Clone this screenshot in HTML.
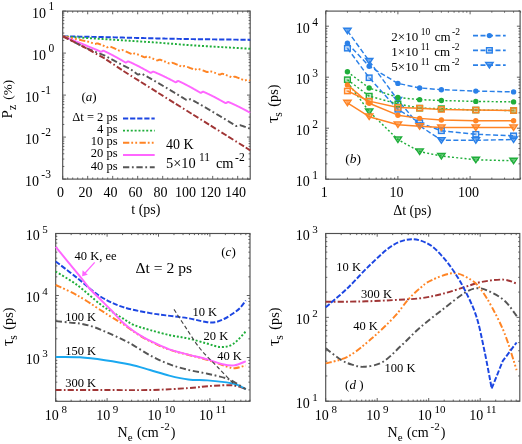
<!DOCTYPE html>
<html><head><meta charset="utf-8"><style>
html,body{margin:0;padding:0;background:#fff;width:522px;height:444px;overflow:hidden}
svg{display:block;filter:blur(0.35px)}
text{font-family:"Liberation Serif", serif;fill:#000}
</style></head><body>
<svg width="522" height="444" viewBox="0 0 522 444">
<rect width="522" height="444" fill="#fff"/>
<rect x="62.70" y="11.10" width="187.50" height="168.00" fill="none" stroke="#505050" stroke-width="1.15"/>
<line x1="62.70" y1="179.10" x2="62.70" y2="175.90" stroke="#505050" stroke-width="0.9"/>
<line x1="62.70" y1="11.10" x2="62.70" y2="14.30" stroke="#505050" stroke-width="0.9"/>
<line x1="87.70" y1="179.10" x2="87.70" y2="175.90" stroke="#505050" stroke-width="0.9"/>
<line x1="87.70" y1="11.10" x2="87.70" y2="14.30" stroke="#505050" stroke-width="0.9"/>
<line x1="112.70" y1="179.10" x2="112.70" y2="175.90" stroke="#505050" stroke-width="0.9"/>
<line x1="112.70" y1="11.10" x2="112.70" y2="14.30" stroke="#505050" stroke-width="0.9"/>
<line x1="137.70" y1="179.10" x2="137.70" y2="175.90" stroke="#505050" stroke-width="0.9"/>
<line x1="137.70" y1="11.10" x2="137.70" y2="14.30" stroke="#505050" stroke-width="0.9"/>
<line x1="162.70" y1="179.10" x2="162.70" y2="175.90" stroke="#505050" stroke-width="0.9"/>
<line x1="162.70" y1="11.10" x2="162.70" y2="14.30" stroke="#505050" stroke-width="0.9"/>
<line x1="187.70" y1="179.10" x2="187.70" y2="175.90" stroke="#505050" stroke-width="0.9"/>
<line x1="187.70" y1="11.10" x2="187.70" y2="14.30" stroke="#505050" stroke-width="0.9"/>
<line x1="212.70" y1="179.10" x2="212.70" y2="175.90" stroke="#505050" stroke-width="0.9"/>
<line x1="212.70" y1="11.10" x2="212.70" y2="14.30" stroke="#505050" stroke-width="0.9"/>
<line x1="237.70" y1="179.10" x2="237.70" y2="175.90" stroke="#505050" stroke-width="0.9"/>
<line x1="237.70" y1="11.10" x2="237.70" y2="14.30" stroke="#505050" stroke-width="0.9"/>
<line x1="67.70" y1="179.10" x2="67.70" y2="177.50" stroke="#505050" stroke-width="0.9"/>
<line x1="67.70" y1="11.10" x2="67.70" y2="12.70" stroke="#505050" stroke-width="0.9"/>
<line x1="72.70" y1="179.10" x2="72.70" y2="177.50" stroke="#505050" stroke-width="0.9"/>
<line x1="72.70" y1="11.10" x2="72.70" y2="12.70" stroke="#505050" stroke-width="0.9"/>
<line x1="77.70" y1="179.10" x2="77.70" y2="177.50" stroke="#505050" stroke-width="0.9"/>
<line x1="77.70" y1="11.10" x2="77.70" y2="12.70" stroke="#505050" stroke-width="0.9"/>
<line x1="82.70" y1="179.10" x2="82.70" y2="177.50" stroke="#505050" stroke-width="0.9"/>
<line x1="82.70" y1="11.10" x2="82.70" y2="12.70" stroke="#505050" stroke-width="0.9"/>
<line x1="92.70" y1="179.10" x2="92.70" y2="177.50" stroke="#505050" stroke-width="0.9"/>
<line x1="92.70" y1="11.10" x2="92.70" y2="12.70" stroke="#505050" stroke-width="0.9"/>
<line x1="97.70" y1="179.10" x2="97.70" y2="177.50" stroke="#505050" stroke-width="0.9"/>
<line x1="97.70" y1="11.10" x2="97.70" y2="12.70" stroke="#505050" stroke-width="0.9"/>
<line x1="102.70" y1="179.10" x2="102.70" y2="177.50" stroke="#505050" stroke-width="0.9"/>
<line x1="102.70" y1="11.10" x2="102.70" y2="12.70" stroke="#505050" stroke-width="0.9"/>
<line x1="107.70" y1="179.10" x2="107.70" y2="177.50" stroke="#505050" stroke-width="0.9"/>
<line x1="107.70" y1="11.10" x2="107.70" y2="12.70" stroke="#505050" stroke-width="0.9"/>
<line x1="117.70" y1="179.10" x2="117.70" y2="177.50" stroke="#505050" stroke-width="0.9"/>
<line x1="117.70" y1="11.10" x2="117.70" y2="12.70" stroke="#505050" stroke-width="0.9"/>
<line x1="122.70" y1="179.10" x2="122.70" y2="177.50" stroke="#505050" stroke-width="0.9"/>
<line x1="122.70" y1="11.10" x2="122.70" y2="12.70" stroke="#505050" stroke-width="0.9"/>
<line x1="127.70" y1="179.10" x2="127.70" y2="177.50" stroke="#505050" stroke-width="0.9"/>
<line x1="127.70" y1="11.10" x2="127.70" y2="12.70" stroke="#505050" stroke-width="0.9"/>
<line x1="132.70" y1="179.10" x2="132.70" y2="177.50" stroke="#505050" stroke-width="0.9"/>
<line x1="132.70" y1="11.10" x2="132.70" y2="12.70" stroke="#505050" stroke-width="0.9"/>
<line x1="142.70" y1="179.10" x2="142.70" y2="177.50" stroke="#505050" stroke-width="0.9"/>
<line x1="142.70" y1="11.10" x2="142.70" y2="12.70" stroke="#505050" stroke-width="0.9"/>
<line x1="147.70" y1="179.10" x2="147.70" y2="177.50" stroke="#505050" stroke-width="0.9"/>
<line x1="147.70" y1="11.10" x2="147.70" y2="12.70" stroke="#505050" stroke-width="0.9"/>
<line x1="152.70" y1="179.10" x2="152.70" y2="177.50" stroke="#505050" stroke-width="0.9"/>
<line x1="152.70" y1="11.10" x2="152.70" y2="12.70" stroke="#505050" stroke-width="0.9"/>
<line x1="157.70" y1="179.10" x2="157.70" y2="177.50" stroke="#505050" stroke-width="0.9"/>
<line x1="157.70" y1="11.10" x2="157.70" y2="12.70" stroke="#505050" stroke-width="0.9"/>
<line x1="167.70" y1="179.10" x2="167.70" y2="177.50" stroke="#505050" stroke-width="0.9"/>
<line x1="167.70" y1="11.10" x2="167.70" y2="12.70" stroke="#505050" stroke-width="0.9"/>
<line x1="172.70" y1="179.10" x2="172.70" y2="177.50" stroke="#505050" stroke-width="0.9"/>
<line x1="172.70" y1="11.10" x2="172.70" y2="12.70" stroke="#505050" stroke-width="0.9"/>
<line x1="177.70" y1="179.10" x2="177.70" y2="177.50" stroke="#505050" stroke-width="0.9"/>
<line x1="177.70" y1="11.10" x2="177.70" y2="12.70" stroke="#505050" stroke-width="0.9"/>
<line x1="182.70" y1="179.10" x2="182.70" y2="177.50" stroke="#505050" stroke-width="0.9"/>
<line x1="182.70" y1="11.10" x2="182.70" y2="12.70" stroke="#505050" stroke-width="0.9"/>
<line x1="192.70" y1="179.10" x2="192.70" y2="177.50" stroke="#505050" stroke-width="0.9"/>
<line x1="192.70" y1="11.10" x2="192.70" y2="12.70" stroke="#505050" stroke-width="0.9"/>
<line x1="197.70" y1="179.10" x2="197.70" y2="177.50" stroke="#505050" stroke-width="0.9"/>
<line x1="197.70" y1="11.10" x2="197.70" y2="12.70" stroke="#505050" stroke-width="0.9"/>
<line x1="202.70" y1="179.10" x2="202.70" y2="177.50" stroke="#505050" stroke-width="0.9"/>
<line x1="202.70" y1="11.10" x2="202.70" y2="12.70" stroke="#505050" stroke-width="0.9"/>
<line x1="207.70" y1="179.10" x2="207.70" y2="177.50" stroke="#505050" stroke-width="0.9"/>
<line x1="207.70" y1="11.10" x2="207.70" y2="12.70" stroke="#505050" stroke-width="0.9"/>
<line x1="217.70" y1="179.10" x2="217.70" y2="177.50" stroke="#505050" stroke-width="0.9"/>
<line x1="217.70" y1="11.10" x2="217.70" y2="12.70" stroke="#505050" stroke-width="0.9"/>
<line x1="222.70" y1="179.10" x2="222.70" y2="177.50" stroke="#505050" stroke-width="0.9"/>
<line x1="222.70" y1="11.10" x2="222.70" y2="12.70" stroke="#505050" stroke-width="0.9"/>
<line x1="227.70" y1="179.10" x2="227.70" y2="177.50" stroke="#505050" stroke-width="0.9"/>
<line x1="227.70" y1="11.10" x2="227.70" y2="12.70" stroke="#505050" stroke-width="0.9"/>
<line x1="232.70" y1="179.10" x2="232.70" y2="177.50" stroke="#505050" stroke-width="0.9"/>
<line x1="232.70" y1="11.10" x2="232.70" y2="12.70" stroke="#505050" stroke-width="0.9"/>
<line x1="242.70" y1="179.10" x2="242.70" y2="177.50" stroke="#505050" stroke-width="0.9"/>
<line x1="242.70" y1="11.10" x2="242.70" y2="12.70" stroke="#505050" stroke-width="0.9"/>
<line x1="247.70" y1="179.10" x2="247.70" y2="177.50" stroke="#505050" stroke-width="0.9"/>
<line x1="247.70" y1="11.10" x2="247.70" y2="12.70" stroke="#505050" stroke-width="0.9"/>
<line x1="62.70" y1="179.10" x2="65.90" y2="179.10" stroke="#505050" stroke-width="0.9"/>
<line x1="250.20" y1="179.10" x2="247.00" y2="179.10" stroke="#505050" stroke-width="0.9"/>
<line x1="62.70" y1="137.10" x2="65.90" y2="137.10" stroke="#505050" stroke-width="0.9"/>
<line x1="250.20" y1="137.10" x2="247.00" y2="137.10" stroke="#505050" stroke-width="0.9"/>
<line x1="62.70" y1="95.10" x2="65.90" y2="95.10" stroke="#505050" stroke-width="0.9"/>
<line x1="250.20" y1="95.10" x2="247.00" y2="95.10" stroke="#505050" stroke-width="0.9"/>
<line x1="62.70" y1="53.10" x2="65.90" y2="53.10" stroke="#505050" stroke-width="0.9"/>
<line x1="250.20" y1="53.10" x2="247.00" y2="53.10" stroke="#505050" stroke-width="0.9"/>
<line x1="62.70" y1="11.10" x2="65.90" y2="11.10" stroke="#505050" stroke-width="0.9"/>
<line x1="250.20" y1="11.10" x2="247.00" y2="11.10" stroke="#505050" stroke-width="0.9"/>
<line x1="62.70" y1="166.46" x2="64.30" y2="166.46" stroke="#505050" stroke-width="0.9"/>
<line x1="250.20" y1="166.46" x2="248.60" y2="166.46" stroke="#505050" stroke-width="0.9"/>
<line x1="62.70" y1="159.06" x2="64.30" y2="159.06" stroke="#505050" stroke-width="0.9"/>
<line x1="250.20" y1="159.06" x2="248.60" y2="159.06" stroke="#505050" stroke-width="0.9"/>
<line x1="62.70" y1="153.81" x2="64.30" y2="153.81" stroke="#505050" stroke-width="0.9"/>
<line x1="250.20" y1="153.81" x2="248.60" y2="153.81" stroke="#505050" stroke-width="0.9"/>
<line x1="62.70" y1="149.74" x2="64.30" y2="149.74" stroke="#505050" stroke-width="0.9"/>
<line x1="250.20" y1="149.74" x2="248.60" y2="149.74" stroke="#505050" stroke-width="0.9"/>
<line x1="62.70" y1="146.42" x2="64.30" y2="146.42" stroke="#505050" stroke-width="0.9"/>
<line x1="250.20" y1="146.42" x2="248.60" y2="146.42" stroke="#505050" stroke-width="0.9"/>
<line x1="62.70" y1="143.61" x2="64.30" y2="143.61" stroke="#505050" stroke-width="0.9"/>
<line x1="250.20" y1="143.61" x2="248.60" y2="143.61" stroke="#505050" stroke-width="0.9"/>
<line x1="62.70" y1="141.17" x2="64.30" y2="141.17" stroke="#505050" stroke-width="0.9"/>
<line x1="250.20" y1="141.17" x2="248.60" y2="141.17" stroke="#505050" stroke-width="0.9"/>
<line x1="62.70" y1="139.02" x2="64.30" y2="139.02" stroke="#505050" stroke-width="0.9"/>
<line x1="250.20" y1="139.02" x2="248.60" y2="139.02" stroke="#505050" stroke-width="0.9"/>
<line x1="62.70" y1="124.46" x2="64.30" y2="124.46" stroke="#505050" stroke-width="0.9"/>
<line x1="250.20" y1="124.46" x2="248.60" y2="124.46" stroke="#505050" stroke-width="0.9"/>
<line x1="62.70" y1="117.06" x2="64.30" y2="117.06" stroke="#505050" stroke-width="0.9"/>
<line x1="250.20" y1="117.06" x2="248.60" y2="117.06" stroke="#505050" stroke-width="0.9"/>
<line x1="62.70" y1="111.81" x2="64.30" y2="111.81" stroke="#505050" stroke-width="0.9"/>
<line x1="250.20" y1="111.81" x2="248.60" y2="111.81" stroke="#505050" stroke-width="0.9"/>
<line x1="62.70" y1="107.74" x2="64.30" y2="107.74" stroke="#505050" stroke-width="0.9"/>
<line x1="250.20" y1="107.74" x2="248.60" y2="107.74" stroke="#505050" stroke-width="0.9"/>
<line x1="62.70" y1="104.42" x2="64.30" y2="104.42" stroke="#505050" stroke-width="0.9"/>
<line x1="250.20" y1="104.42" x2="248.60" y2="104.42" stroke="#505050" stroke-width="0.9"/>
<line x1="62.70" y1="101.61" x2="64.30" y2="101.61" stroke="#505050" stroke-width="0.9"/>
<line x1="250.20" y1="101.61" x2="248.60" y2="101.61" stroke="#505050" stroke-width="0.9"/>
<line x1="62.70" y1="99.17" x2="64.30" y2="99.17" stroke="#505050" stroke-width="0.9"/>
<line x1="250.20" y1="99.17" x2="248.60" y2="99.17" stroke="#505050" stroke-width="0.9"/>
<line x1="62.70" y1="97.02" x2="64.30" y2="97.02" stroke="#505050" stroke-width="0.9"/>
<line x1="250.20" y1="97.02" x2="248.60" y2="97.02" stroke="#505050" stroke-width="0.9"/>
<line x1="62.70" y1="82.46" x2="64.30" y2="82.46" stroke="#505050" stroke-width="0.9"/>
<line x1="250.20" y1="82.46" x2="248.60" y2="82.46" stroke="#505050" stroke-width="0.9"/>
<line x1="62.70" y1="75.06" x2="64.30" y2="75.06" stroke="#505050" stroke-width="0.9"/>
<line x1="250.20" y1="75.06" x2="248.60" y2="75.06" stroke="#505050" stroke-width="0.9"/>
<line x1="62.70" y1="69.81" x2="64.30" y2="69.81" stroke="#505050" stroke-width="0.9"/>
<line x1="250.20" y1="69.81" x2="248.60" y2="69.81" stroke="#505050" stroke-width="0.9"/>
<line x1="62.70" y1="65.74" x2="64.30" y2="65.74" stroke="#505050" stroke-width="0.9"/>
<line x1="250.20" y1="65.74" x2="248.60" y2="65.74" stroke="#505050" stroke-width="0.9"/>
<line x1="62.70" y1="62.42" x2="64.30" y2="62.42" stroke="#505050" stroke-width="0.9"/>
<line x1="250.20" y1="62.42" x2="248.60" y2="62.42" stroke="#505050" stroke-width="0.9"/>
<line x1="62.70" y1="59.61" x2="64.30" y2="59.61" stroke="#505050" stroke-width="0.9"/>
<line x1="250.20" y1="59.61" x2="248.60" y2="59.61" stroke="#505050" stroke-width="0.9"/>
<line x1="62.70" y1="57.17" x2="64.30" y2="57.17" stroke="#505050" stroke-width="0.9"/>
<line x1="250.20" y1="57.17" x2="248.60" y2="57.17" stroke="#505050" stroke-width="0.9"/>
<line x1="62.70" y1="55.02" x2="64.30" y2="55.02" stroke="#505050" stroke-width="0.9"/>
<line x1="250.20" y1="55.02" x2="248.60" y2="55.02" stroke="#505050" stroke-width="0.9"/>
<line x1="62.70" y1="40.46" x2="64.30" y2="40.46" stroke="#505050" stroke-width="0.9"/>
<line x1="250.20" y1="40.46" x2="248.60" y2="40.46" stroke="#505050" stroke-width="0.9"/>
<line x1="62.70" y1="33.06" x2="64.30" y2="33.06" stroke="#505050" stroke-width="0.9"/>
<line x1="250.20" y1="33.06" x2="248.60" y2="33.06" stroke="#505050" stroke-width="0.9"/>
<line x1="62.70" y1="27.81" x2="64.30" y2="27.81" stroke="#505050" stroke-width="0.9"/>
<line x1="250.20" y1="27.81" x2="248.60" y2="27.81" stroke="#505050" stroke-width="0.9"/>
<line x1="62.70" y1="23.74" x2="64.30" y2="23.74" stroke="#505050" stroke-width="0.9"/>
<line x1="250.20" y1="23.74" x2="248.60" y2="23.74" stroke="#505050" stroke-width="0.9"/>
<line x1="62.70" y1="20.42" x2="64.30" y2="20.42" stroke="#505050" stroke-width="0.9"/>
<line x1="250.20" y1="20.42" x2="248.60" y2="20.42" stroke="#505050" stroke-width="0.9"/>
<line x1="62.70" y1="17.61" x2="64.30" y2="17.61" stroke="#505050" stroke-width="0.9"/>
<line x1="250.20" y1="17.61" x2="248.60" y2="17.61" stroke="#505050" stroke-width="0.9"/>
<line x1="62.70" y1="15.17" x2="64.30" y2="15.17" stroke="#505050" stroke-width="0.9"/>
<line x1="250.20" y1="15.17" x2="248.60" y2="15.17" stroke="#505050" stroke-width="0.9"/>
<line x1="62.70" y1="13.02" x2="64.30" y2="13.02" stroke="#505050" stroke-width="0.9"/>
<line x1="250.20" y1="13.02" x2="248.60" y2="13.02" stroke="#505050" stroke-width="0.9"/>
<text x="50.90" y="186.00" font-size="14" text-anchor="end">10<tspan dx="2.4" dy="-7.6" font-size="11.5">-3</tspan></text>
<text x="50.90" y="144.00" font-size="14" text-anchor="end">10<tspan dx="2.4" dy="-7.6" font-size="11.5">-2</tspan></text>
<text x="50.90" y="102.00" font-size="14" text-anchor="end">10<tspan dx="2.4" dy="-7.6" font-size="11.5">-1</tspan></text>
<text x="54.20" y="60.00" font-size="14" text-anchor="end">10<tspan dx="2.4" dy="-7.6" font-size="11.5">0</tspan></text>
<text x="54.20" y="18.00" font-size="14" text-anchor="end">10<tspan dx="2.4" dy="-7.6" font-size="11.5">1</tspan></text>
<text x="60.50" y="196.50" font-size="14" text-anchor="middle" >0</text>
<text x="85.50" y="196.50" font-size="14" text-anchor="middle" >20</text>
<text x="110.50" y="196.50" font-size="14" text-anchor="middle" >40</text>
<text x="135.50" y="196.50" font-size="14" text-anchor="middle" >60</text>
<text x="160.50" y="196.50" font-size="14" text-anchor="middle" >80</text>
<text x="185.50" y="196.50" font-size="14" text-anchor="middle" >100</text>
<text x="210.50" y="196.50" font-size="14" text-anchor="middle" >120</text>
<text x="235.50" y="196.50" font-size="14" text-anchor="middle" >140</text>
<text x="131.30" y="214.00" font-size="14" text-anchor="start" >t (ps)</text>
<text transform="translate(12.4,118.6) rotate(-90)" font-size="14.8">P<tspan dx="0.4" dy="4" font-size="11.5">z</tspan><tspan dy="-4" dx="5.2" font-size="13.2">(%)</tspan></text>
<path d="M63.00,36.30 L63.31,36.31 L63.62,36.31 L63.94,36.32 L64.25,36.32 L64.56,36.33 L64.87,36.34 L65.18,36.34 L65.50,36.35 L65.81,36.35 L66.12,36.36 L66.43,36.36 L66.74,36.37 L67.06,36.38 L67.37,36.38 L67.68,36.39 L67.99,36.39 L68.30,36.40 L68.62,36.41 L68.93,36.41 L69.24,36.42 L69.55,36.42 L69.86,36.43 L70.18,36.44 L70.49,36.44 L70.80,36.45 L71.11,36.45 L71.42,36.46 L71.74,36.47 L72.05,36.47 L72.36,36.48 L72.67,36.48 L72.98,36.49 L73.30,36.49 L73.61,36.50 L73.92,36.51 L74.23,36.51 L74.54,36.52 L74.86,36.52 L75.17,36.53 L75.48,36.54 L75.79,36.54 L76.10,36.55 L76.42,36.55 L76.73,36.56 L77.04,36.57 L77.35,36.57 L77.66,36.58 L77.98,36.58 L78.29,36.59 L78.60,36.60 L78.91,36.60 L79.22,36.61 L79.54,36.61 L79.85,36.62 L80.16,36.62 L80.47,36.63 L80.78,36.64 L81.10,36.64 L81.41,36.65 L81.72,36.65 L82.03,36.66 L82.34,36.67 L82.66,36.67 L82.97,36.68 L83.28,36.68 L83.59,36.69 L83.90,36.70 L84.22,36.70 L84.53,36.71 L84.84,36.71 L85.15,36.72 L85.46,36.72 L85.78,36.73 L86.09,36.74 L86.40,36.74 L86.71,36.75 L87.02,36.75 L87.34,36.76 L87.65,36.77 L87.96,36.77 L88.27,36.78 L88.58,36.78 L88.90,36.79 L89.21,36.80 L89.52,36.80 L89.83,36.81 L90.14,36.81 L90.46,36.82 L90.77,36.83 L91.08,36.83 L91.39,36.84 L91.70,36.84 L92.02,36.85 L92.33,36.85 L92.64,36.86 L92.95,36.87 L93.26,36.87 L93.58,36.88 L93.89,36.88 L94.20,36.89 L94.51,36.90 L94.82,36.90 L95.14,36.91 L95.45,36.91 L95.76,36.92 L96.07,36.93 L96.38,36.93 L96.70,36.94 L97.01,36.94 L97.32,36.95 L97.63,36.96 L97.94,36.96 L98.26,36.97 L98.57,36.97 L98.88,36.98 L99.19,36.98 L99.50,36.99 L99.82,37.00 L100.13,37.00 L100.44,37.01 L100.75,37.02 L101.06,37.03 L101.38,37.03 L101.69,37.04 L102.00,37.05 L102.31,37.06 L102.62,37.07 L102.94,37.07 L103.25,37.08 L103.56,37.09 L103.87,37.10 L104.18,37.10 L104.50,37.11 L104.81,37.12 L105.12,37.13 L105.43,37.14 L105.74,37.14 L106.06,37.15 L106.37,37.16 L106.68,37.17 L106.99,37.17 L107.30,37.18 L107.62,37.19 L107.93,37.20 L108.24,37.21 L108.55,37.21 L108.86,37.22 L109.18,37.23 L109.49,37.24 L109.80,37.24 L110.11,37.25 L110.42,37.26 L110.74,37.27 L111.05,37.28 L111.36,37.28 L111.67,37.29 L111.98,37.30 L112.30,37.31 L112.61,37.32 L112.92,37.32 L113.23,37.33 L113.54,37.34 L113.86,37.35 L114.17,37.35 L114.48,37.36 L114.79,37.37 L115.10,37.38 L115.42,37.39 L115.73,37.39 L116.04,37.40 L116.35,37.41 L116.66,37.42 L116.98,37.42 L117.29,37.43 L117.60,37.44 L117.91,37.45 L118.22,37.46 L118.54,37.46 L118.85,37.47 L119.16,37.48 L119.47,37.49 L119.78,37.49 L120.10,37.50 L120.41,37.51 L120.72,37.52 L121.03,37.53 L121.34,37.53 L121.66,37.54 L121.97,37.55 L122.28,37.56 L122.59,37.56 L122.90,37.57 L123.22,37.58 L123.53,37.59 L123.84,37.60 L124.15,37.60 L124.46,37.61 L124.78,37.62 L125.09,37.63 L125.40,37.63 L125.71,37.64 L126.02,37.65 L126.34,37.66 L126.65,37.67 L126.96,37.67 L127.27,37.68 L127.58,37.69 L127.90,37.70 L128.21,37.71 L128.52,37.71 L128.83,37.72 L129.14,37.73 L129.46,37.74 L129.77,37.74 L130.08,37.75 L130.39,37.76 L130.70,37.77 L131.02,37.78 L131.33,37.78 L131.64,37.79 L131.95,37.80 L132.26,37.81 L132.58,37.81 L132.89,37.82 L133.20,37.83 L133.51,37.84 L133.82,37.85 L134.14,37.85 L134.45,37.86 L134.76,37.87 L135.07,37.88 L135.38,37.88 L135.70,37.89 L136.01,37.90 L136.32,37.91 L136.63,37.92 L136.94,37.92 L137.26,37.93 L137.57,37.94 L137.88,37.95 L138.19,37.95 L138.50,37.96 L138.82,37.97 L139.13,37.98 L139.44,37.99 L139.75,37.99 L140.06,38.00 L140.38,38.01 L140.69,38.02 L141.00,38.02 L141.31,38.03 L141.62,38.04 L141.94,38.05 L142.25,38.06 L142.56,38.06 L142.87,38.07 L143.18,38.08 L143.50,38.09 L143.81,38.10 L144.12,38.10 L144.43,38.11 L144.74,38.12 L145.06,38.13 L145.37,38.13 L145.68,38.14 L145.99,38.15 L146.30,38.16 L146.62,38.17 L146.93,38.17 L147.24,38.18 L147.55,38.19 L147.86,38.20 L148.18,38.20 L148.49,38.21 L148.80,38.22 L149.11,38.23 L149.42,38.24 L149.74,38.24 L150.05,38.25 L150.36,38.26 L150.67,38.27 L150.98,38.27 L151.30,38.28 L151.61,38.29 L151.92,38.30 L152.23,38.31 L152.54,38.31 L152.86,38.32 L153.17,38.33 L153.48,38.34 L153.79,38.34 L154.10,38.35 L154.42,38.36 L154.73,38.37 L155.04,38.38 L155.35,38.38 L155.66,38.39 L155.98,38.40 L156.29,38.41 L156.60,38.41 L156.91,38.42 L157.22,38.43 L157.54,38.44 L157.85,38.45 L158.16,38.45 L158.47,38.46 L158.78,38.47 L159.10,38.48 L159.41,38.49 L159.72,38.49 L160.03,38.50 L160.34,38.51 L160.66,38.51 L160.97,38.52 L161.28,38.53 L161.59,38.53 L161.90,38.54 L162.22,38.54 L162.53,38.55 L162.84,38.56 L163.15,38.56 L163.46,38.57 L163.78,38.58 L164.09,38.58 L164.40,38.59 L164.71,38.59 L165.02,38.60 L165.34,38.61 L165.65,38.61 L165.96,38.62 L166.27,38.63 L166.58,38.63 L166.90,38.64 L167.21,38.64 L167.52,38.65 L167.83,38.66 L168.14,38.66 L168.46,38.67 L168.77,38.68 L169.08,38.68 L169.39,38.69 L169.70,38.69 L170.02,38.70 L170.33,38.71 L170.64,38.71 L170.95,38.72 L171.26,38.73 L171.58,38.73 L171.89,38.74 L172.20,38.74 L172.51,38.75 L172.82,38.76 L173.14,38.76 L173.45,38.77 L173.76,38.78 L174.07,38.78 L174.38,38.79 L174.70,38.79 L175.01,38.80 L175.32,38.81 L175.63,38.81 L175.94,38.82 L176.26,38.83 L176.57,38.83 L176.88,38.84 L177.19,38.84 L177.50,38.85 L177.82,38.86 L178.13,38.86 L178.44,38.87 L178.75,38.88 L179.06,38.88 L179.38,38.89 L179.69,38.89 L180.00,38.90 L180.31,38.91 L180.62,38.91 L180.94,38.92 L181.25,38.92 L181.56,38.93 L181.87,38.94 L182.18,38.94 L182.50,38.95 L182.81,38.96 L183.12,38.96 L183.43,38.97 L183.74,38.97 L184.06,38.98 L184.37,38.99 L184.68,38.99 L184.99,39.00 L185.30,39.01 L185.62,39.01 L185.93,39.02 L186.24,39.02 L186.55,39.03 L186.86,39.04 L187.18,39.04 L187.49,39.05 L187.80,39.06 L188.11,39.06 L188.42,39.07 L188.74,39.07 L189.05,39.08 L189.36,39.09 L189.67,39.09 L189.98,39.10 L190.30,39.10 L190.61,39.11 L190.92,39.11 L191.23,39.11 L191.54,39.12 L191.86,39.12 L192.17,39.13 L192.48,39.13 L192.79,39.13 L193.10,39.14 L193.42,39.14 L193.73,39.14 L194.04,39.15 L194.35,39.15 L194.66,39.15 L194.98,39.16 L195.29,39.16 L195.60,39.17 L195.91,39.17 L196.22,39.17 L196.54,39.18 L196.85,39.18 L197.16,39.18 L197.47,39.19 L197.78,39.19 L198.10,39.19 L198.41,39.20 L198.72,39.20 L199.03,39.21 L199.34,39.21 L199.66,39.21 L199.97,39.22 L200.28,39.22 L200.59,39.22 L200.90,39.23 L201.22,39.23 L201.53,39.23 L201.84,39.24 L202.15,39.24 L202.46,39.24 L202.78,39.25 L203.09,39.25 L203.40,39.26 L203.71,39.26 L204.02,39.26 L204.34,39.27 L204.65,39.27 L204.96,39.27 L205.27,39.28 L205.58,39.28 L205.90,39.28 L206.21,39.29 L206.52,39.29 L206.83,39.30 L207.14,39.30 L207.46,39.30 L207.77,39.31 L208.08,39.31 L208.39,39.31 L208.70,39.32 L209.02,39.32 L209.33,39.32 L209.64,39.33 L209.95,39.33 L210.26,39.34 L210.58,39.34 L210.89,39.34 L211.20,39.35 L211.51,39.35 L211.82,39.35 L212.14,39.36 L212.45,39.36 L212.76,39.36 L213.07,39.37 L213.38,39.37 L213.70,39.38 L214.01,39.38 L214.32,39.38 L214.63,39.39 L214.94,39.39 L215.26,39.39 L215.57,39.40 L215.88,39.40 L216.19,39.40 L216.50,39.41 L216.82,39.41 L217.13,39.42 L217.44,39.42 L217.75,39.42 L218.06,39.43 L218.38,39.43 L218.69,39.43 L219.00,39.44 L219.31,39.44 L219.62,39.44 L219.94,39.45 L220.25,39.45 L220.56,39.46 L220.87,39.46 L221.18,39.46 L221.50,39.47 L221.81,39.47 L222.12,39.47 L222.43,39.48 L222.74,39.48 L223.06,39.48 L223.37,39.49 L223.68,39.49 L223.99,39.50 L224.30,39.50 L224.62,39.50 L224.93,39.51 L225.24,39.51 L225.55,39.51 L225.86,39.52 L226.18,39.52 L226.49,39.52 L226.80,39.53 L227.11,39.53 L227.42,39.54 L227.74,39.54 L228.05,39.54 L228.36,39.55 L228.67,39.55 L228.98,39.55 L229.30,39.56 L229.61,39.56 L229.92,39.56 L230.23,39.57 L230.54,39.57 L230.86,39.58 L231.17,39.58 L231.48,39.58 L231.79,39.59 L232.10,39.59 L232.42,39.59 L232.73,39.60 L233.04,39.60 L233.35,39.60 L233.66,39.61 L233.98,39.61 L234.29,39.61 L234.60,39.62 L234.91,39.62 L235.22,39.63 L235.54,39.63 L235.85,39.63 L236.16,39.64 L236.47,39.64 L236.78,39.64 L237.10,39.65 L237.41,39.65 L237.72,39.65 L238.03,39.66 L238.34,39.66 L238.66,39.67 L238.97,39.67 L239.28,39.67 L239.59,39.68 L239.90,39.68 L240.22,39.68 L240.53,39.69 L240.84,39.69 L241.15,39.69 L241.46,39.70 L241.78,39.70 L242.09,39.71 L242.40,39.71 L242.71,39.71 L243.02,39.72 L243.34,39.72 L243.65,39.72 L243.96,39.73 L244.27,39.73 L244.58,39.73 L244.90,39.74 L245.21,39.74 L245.52,39.75 L245.83,39.75 L246.14,39.75 L246.46,39.76 L246.77,39.76 L247.08,39.76 L247.39,39.77 L247.70,39.77 L248.02,39.77 L248.33,39.78 L248.64,39.78 L248.95,39.79 L249.26,39.79 L249.58,39.79 L249.89,39.80 L250.20,39.80" fill="none" stroke="#1c46e2" stroke-width="1.95" stroke-dasharray="5.2,1.9" stroke-linecap="butt" stroke-linejoin="round" />
<path d="M63.00,36.30 L63.31,36.32 L63.62,36.35 L63.94,36.37 L64.25,36.40 L64.56,36.42 L64.87,36.44 L65.18,36.47 L65.50,36.49 L65.81,36.51 L66.12,36.54 L66.43,36.56 L66.74,36.59 L67.06,36.61 L67.37,36.63 L67.68,36.66 L67.99,36.68 L68.30,36.71 L68.62,36.73 L68.93,36.75 L69.24,36.78 L69.55,36.80 L69.86,36.82 L70.18,36.85 L70.49,36.87 L70.80,36.90 L71.11,36.92 L71.42,36.94 L71.74,36.97 L72.05,36.99 L72.36,37.02 L72.67,37.04 L72.98,37.06 L73.30,37.09 L73.61,37.11 L73.92,37.14 L74.23,37.16 L74.54,37.18 L74.86,37.21 L75.17,37.23 L75.48,37.25 L75.79,37.28 L76.10,37.30 L76.42,37.33 L76.73,37.35 L77.04,37.37 L77.35,37.40 L77.66,37.42 L77.98,37.45 L78.29,37.47 L78.60,37.49 L78.91,37.52 L79.22,37.54 L79.54,37.56 L79.85,37.59 L80.16,37.61 L80.47,37.63 L80.78,37.65 L81.10,37.67 L81.41,37.69 L81.72,37.71 L82.03,37.73 L82.34,37.75 L82.66,37.77 L82.97,37.79 L83.28,37.81 L83.59,37.83 L83.90,37.85 L84.22,37.87 L84.53,37.89 L84.84,37.91 L85.15,37.93 L85.46,37.96 L85.78,37.98 L86.09,38.00 L86.40,38.02 L86.71,38.04 L87.02,38.06 L87.34,38.08 L87.65,38.10 L87.96,38.12 L88.27,38.14 L88.58,38.16 L88.90,38.18 L89.21,38.20 L89.52,38.22 L89.83,38.24 L90.14,38.26 L90.46,38.28 L90.77,38.30 L91.08,38.32 L91.39,38.34 L91.70,38.36 L92.02,38.38 L92.33,38.40 L92.64,38.42 L92.95,38.44 L93.26,38.46 L93.58,38.48 L93.89,38.50 L94.20,38.52 L94.51,38.54 L94.82,38.56 L95.14,38.58 L95.45,38.60 L95.76,38.62 L96.07,38.64 L96.38,38.66 L96.70,38.69 L97.01,38.71 L97.32,38.73 L97.63,38.75 L97.94,38.77 L98.26,38.79 L98.57,38.81 L98.88,38.83 L99.19,38.85 L99.50,38.87 L99.82,38.89 L100.13,38.91 L100.44,38.93 L100.75,38.95 L101.06,38.97 L101.38,38.99 L101.69,39.01 L102.00,39.03 L102.31,39.05 L102.62,39.07 L102.94,39.09 L103.25,39.11 L103.56,39.13 L103.87,39.15 L104.18,39.17 L104.50,39.19 L104.81,39.21 L105.12,39.23 L105.43,39.25 L105.74,39.27 L106.06,39.29 L106.37,39.31 L106.68,39.33 L106.99,39.35 L107.30,39.37 L107.62,39.40 L107.93,39.42 L108.24,39.44 L108.55,39.46 L108.86,39.48 L109.18,39.50 L109.49,39.52 L109.80,39.54 L110.11,39.56 L110.42,39.58 L110.74,39.60 L111.05,39.62 L111.36,39.64 L111.67,39.66 L111.98,39.68 L112.30,39.70 L112.61,39.72 L112.92,39.74 L113.23,39.76 L113.54,39.78 L113.86,39.80 L114.17,39.82 L114.48,39.84 L114.79,39.86 L115.10,39.88 L115.42,39.90 L115.73,39.92 L116.04,39.94 L116.35,39.96 L116.66,39.98 L116.98,40.00 L117.29,40.02 L117.60,40.04 L117.91,40.06 L118.22,40.08 L118.54,40.10 L118.85,40.13 L119.16,40.15 L119.47,40.17 L119.78,40.19 L120.10,40.21 L120.41,40.23 L120.72,40.25 L121.03,40.27 L121.34,40.29 L121.66,40.31 L121.97,40.33 L122.28,40.35 L122.59,40.37 L122.90,40.39 L123.22,40.41 L123.53,40.43 L123.84,40.45 L124.15,40.47 L124.46,40.49 L124.78,40.51 L125.09,40.53 L125.40,40.55 L125.71,40.57 L126.02,40.59 L126.34,40.61 L126.65,40.63 L126.96,40.65 L127.27,40.67 L127.58,40.69 L127.90,40.71 L128.21,40.73 L128.52,40.75 L128.83,40.77 L129.14,40.79 L129.46,40.81 L129.77,40.83 L130.08,40.86 L130.39,40.88 L130.70,40.90 L131.02,40.92 L131.33,40.94 L131.64,40.96 L131.95,40.98 L132.26,41.00 L132.58,41.02 L132.89,41.04 L133.20,41.06 L133.51,41.08 L133.82,41.10 L134.14,41.12 L134.45,41.14 L134.76,41.16 L135.07,41.18 L135.38,41.20 L135.70,41.22 L136.01,41.24 L136.32,41.26 L136.63,41.28 L136.94,41.30 L137.26,41.32 L137.57,41.34 L137.88,41.36 L138.19,41.38 L138.50,41.40 L138.82,41.42 L139.13,41.44 L139.44,41.46 L139.75,41.48 L140.06,41.50 L140.38,41.52 L140.69,41.54 L141.00,41.56 L141.31,41.59 L141.62,41.61 L141.94,41.63 L142.25,41.65 L142.56,41.67 L142.87,41.69 L143.18,41.71 L143.50,41.73 L143.81,41.75 L144.12,41.77 L144.43,41.79 L144.74,41.81 L145.06,41.83 L145.37,41.85 L145.68,41.87 L145.99,41.89 L146.30,41.91 L146.62,41.93 L146.93,41.95 L147.24,41.97 L147.55,41.99 L147.86,42.01 L148.18,42.03 L148.49,42.05 L148.80,42.07 L149.11,42.09 L149.42,42.11 L149.74,42.13 L150.05,42.15 L150.36,42.17 L150.67,42.19 L150.98,42.21 L151.30,42.23 L151.61,42.25 L151.92,42.27 L152.23,42.30 L152.54,42.32 L152.86,42.34 L153.17,42.36 L153.48,42.38 L153.79,42.40 L154.10,42.42 L154.42,42.44 L154.73,42.46 L155.04,42.48 L155.35,42.50 L155.66,42.52 L155.98,42.54 L156.29,42.56 L156.60,42.58 L156.91,42.60 L157.22,42.62 L157.54,42.64 L157.85,42.66 L158.16,42.68 L158.47,42.70 L158.78,42.72 L159.10,42.74 L159.41,42.76 L159.72,42.78 L160.03,42.80 L160.34,42.83 L160.66,42.85 L160.97,42.88 L161.28,42.90 L161.59,42.93 L161.90,42.95 L162.22,42.98 L162.53,43.00 L162.84,43.03 L163.15,43.05 L163.46,43.08 L163.78,43.10 L164.09,43.13 L164.40,43.15 L164.71,43.18 L165.02,43.20 L165.34,43.23 L165.65,43.25 L165.96,43.28 L166.27,43.30 L166.58,43.33 L166.90,43.35 L167.21,43.38 L167.52,43.40 L167.83,43.43 L168.14,43.45 L168.46,43.48 L168.77,43.50 L169.08,43.53 L169.39,43.55 L169.70,43.58 L170.02,43.60 L170.33,43.63 L170.64,43.65 L170.95,43.68 L171.26,43.70 L171.58,43.73 L171.89,43.75 L172.20,43.78 L172.51,43.80 L172.82,43.83 L173.14,43.85 L173.45,43.88 L173.76,43.90 L174.07,43.93 L174.38,43.95 L174.70,43.98 L175.01,44.00 L175.32,44.03 L175.63,44.05 L175.94,44.08 L176.26,44.10 L176.57,44.13 L176.88,44.15 L177.19,44.18 L177.50,44.20 L177.82,44.23 L178.13,44.25 L178.44,44.28 L178.75,44.30 L179.06,44.33 L179.38,44.35 L179.69,44.38 L180.00,44.40 L180.31,44.42 L180.62,44.45 L180.94,44.47 L181.25,44.50 L181.56,44.52 L181.87,44.55 L182.18,44.57 L182.50,44.60 L182.81,44.62 L183.12,44.65 L183.43,44.67 L183.74,44.70 L184.06,44.72 L184.37,44.75 L184.68,44.77 L184.99,44.80 L185.30,44.82 L185.62,44.85 L185.93,44.87 L186.24,44.90 L186.55,44.92 L186.86,44.95 L187.18,44.97 L187.49,45.00 L187.80,45.02 L188.11,45.05 L188.42,45.07 L188.74,45.10 L189.05,45.12 L189.36,45.15 L189.67,45.17 L189.98,45.20 L190.30,45.22 L190.61,45.24 L190.92,45.26 L191.23,45.27 L191.54,45.29 L191.86,45.31 L192.17,45.33 L192.48,45.35 L192.79,45.37 L193.10,45.39 L193.42,45.40 L193.73,45.42 L194.04,45.44 L194.35,45.46 L194.66,45.48 L194.98,45.50 L195.29,45.52 L195.60,45.53 L195.91,45.55 L196.22,45.57 L196.54,45.59 L196.85,45.61 L197.16,45.63 L197.47,45.65 L197.78,45.67 L198.10,45.68 L198.41,45.70 L198.72,45.72 L199.03,45.74 L199.34,45.76 L199.66,45.78 L199.97,45.80 L200.28,45.81 L200.59,45.83 L200.90,45.85 L201.22,45.87 L201.53,45.89 L201.84,45.91 L202.15,45.93 L202.46,45.95 L202.78,45.96 L203.09,45.98 L203.40,46.00 L203.71,46.02 L204.02,46.04 L204.34,46.06 L204.65,46.08 L204.96,46.09 L205.27,46.11 L205.58,46.13 L205.90,46.15 L206.21,46.17 L206.52,46.19 L206.83,46.21 L207.14,46.23 L207.46,46.24 L207.77,46.26 L208.08,46.28 L208.39,46.30 L208.70,46.32 L209.02,46.34 L209.33,46.36 L209.64,46.37 L209.95,46.39 L210.26,46.41 L210.58,46.43 L210.89,46.45 L211.20,46.47 L211.51,46.49 L211.82,46.51 L212.14,46.52 L212.45,46.54 L212.76,46.56 L213.07,46.58 L213.38,46.60 L213.70,46.62 L214.01,46.64 L214.32,46.65 L214.63,46.67 L214.94,46.69 L215.26,46.71 L215.57,46.73 L215.88,46.75 L216.19,46.77 L216.50,46.78 L216.82,46.80 L217.13,46.82 L217.44,46.84 L217.75,46.86 L218.06,46.88 L218.38,46.90 L218.69,46.92 L219.00,46.93 L219.31,46.95 L219.62,46.97 L219.94,46.99 L220.25,47.01 L220.56,47.03 L220.87,47.05 L221.18,47.06 L221.50,47.08 L221.81,47.10 L222.12,47.12 L222.43,47.14 L222.74,47.16 L223.06,47.18 L223.37,47.20 L223.68,47.21 L223.99,47.23 L224.30,47.25 L224.62,47.27 L224.93,47.29 L225.24,47.31 L225.55,47.33 L225.86,47.34 L226.18,47.36 L226.49,47.38 L226.80,47.40 L227.11,47.42 L227.42,47.44 L227.74,47.46 L228.05,47.48 L228.36,47.49 L228.67,47.51 L228.98,47.53 L229.30,47.55 L229.61,47.57 L229.92,47.59 L230.23,47.61 L230.54,47.62 L230.86,47.64 L231.17,47.66 L231.48,47.68 L231.79,47.70 L232.10,47.72 L232.42,47.74 L232.73,47.76 L233.04,47.77 L233.35,47.79 L233.66,47.81 L233.98,47.83 L234.29,47.85 L234.60,47.87 L234.91,47.89 L235.22,47.90 L235.54,47.92 L235.85,47.94 L236.16,47.96 L236.47,47.98 L236.78,48.00 L237.10,48.02 L237.41,48.04 L237.72,48.05 L238.03,48.07 L238.34,48.09 L238.66,48.11 L238.97,48.13 L239.28,48.15 L239.59,48.17 L239.90,48.18 L240.22,48.20 L240.53,48.22 L240.84,48.24 L241.15,48.26 L241.46,48.28 L241.78,48.30 L242.09,48.31 L242.40,48.33 L242.71,48.35 L243.02,48.37 L243.34,48.39 L243.65,48.41 L243.96,48.43 L244.27,48.45 L244.58,48.46 L244.90,48.48 L245.21,48.50 L245.52,48.52 L245.83,48.54 L246.14,48.56 L246.46,48.58 L246.77,48.59 L247.08,48.61 L247.39,48.63 L247.70,48.65 L248.02,48.67 L248.33,48.69 L248.64,48.71 L248.95,48.73 L249.26,48.74 L249.58,48.76 L249.89,48.78 L250.20,48.80" fill="none" stroke="#1fae3a" stroke-width="1.95" stroke-dasharray="2,1.87" stroke-linecap="butt" stroke-linejoin="round" />
<path d="M63.00,36.30 L63.31,36.36 L63.62,36.42 L63.94,36.49 L64.25,36.55 L64.56,36.61 L64.87,36.67 L65.18,36.74 L65.50,36.80 L65.81,36.86 L66.12,36.92 L66.43,36.99 L66.74,37.05 L67.06,37.11 L67.37,37.17 L67.68,37.24 L67.99,37.30 L68.30,37.36 L68.62,37.42 L68.93,37.49 L69.24,37.55 L69.55,37.61 L69.86,37.67 L70.18,37.74 L70.49,37.80 L70.80,37.86 L71.11,37.92 L71.42,37.98 L71.74,38.05 L72.05,38.11 L72.36,38.18 L72.67,38.25 L72.98,38.32 L73.30,38.39 L73.61,38.46 L73.92,38.53 L74.23,38.60 L74.54,38.67 L74.86,38.74 L75.17,38.81 L75.48,38.88 L75.79,38.95 L76.10,39.02 L76.42,39.09 L76.73,39.15 L77.04,39.22 L77.35,39.29 L77.66,39.36 L77.98,39.43 L78.29,39.50 L78.60,39.57 L78.91,39.64 L79.22,39.71 L79.54,39.78 L79.85,39.85 L80.16,39.92 L80.47,39.99 L80.78,40.06 L81.10,40.13 L81.41,40.20 L81.72,40.27 L82.03,40.34 L82.34,40.41 L82.66,40.48 L82.97,40.55 L83.28,40.62 L83.59,40.69 L83.90,40.76 L84.22,40.83 L84.53,40.89 L84.84,40.96 L85.15,41.03 L85.46,41.09 L85.78,41.15 L86.09,41.22 L86.40,41.28 L86.71,41.35 L87.02,41.42 L87.34,41.49 L87.65,41.57 L87.96,41.65 L88.27,41.73 L88.58,41.81 L88.90,41.90 L89.21,41.99 L89.52,42.08 L89.83,42.17 L90.14,42.27 L90.46,42.37 L90.77,42.48 L91.08,42.58 L91.39,42.69 L91.70,42.81 L92.02,42.92 L92.33,43.05 L92.64,43.17 L92.95,43.30 L93.26,43.43 L93.58,43.56 L93.89,43.70 L94.20,43.84 L94.51,43.96 L94.82,44.01 L95.14,43.99 L95.45,43.93 L95.76,43.83 L96.07,43.70 L96.38,43.57 L96.70,43.46 L97.01,43.39 L97.32,43.38 L97.63,43.44 L97.94,43.54 L98.26,43.64 L98.57,43.75 L98.88,43.87 L99.19,43.98 L99.50,44.10 L99.82,44.22 L100.13,44.34 L100.44,44.46 L100.75,44.58 L101.06,44.71 L101.38,44.84 L101.69,44.96 L102.00,45.09 L102.31,45.22 L102.62,45.35 L102.94,45.49 L103.25,45.62 L103.56,45.75 L103.87,45.89 L104.18,46.02 L104.50,46.16 L104.81,46.30 L105.12,46.43 L105.43,46.57 L105.74,46.71 L106.06,46.85 L106.37,46.99 L106.68,47.13 L106.99,47.25 L107.30,47.26 L107.62,47.21 L107.93,47.10 L108.24,46.96 L108.55,46.80 L108.86,46.65 L109.18,46.54 L109.49,46.48 L109.80,46.49 L110.11,46.56 L110.42,46.67 L110.74,46.79 L111.05,46.91 L111.36,47.04 L111.67,47.16 L111.98,47.29 L112.30,47.42 L112.61,47.55 L112.92,47.69 L113.23,47.82 L113.54,47.96 L113.86,48.10 L114.17,48.24 L114.48,48.38 L114.79,48.52 L115.10,48.66 L115.42,48.80 L115.73,48.95 L116.04,49.09 L116.35,49.24 L116.66,49.39 L116.98,49.53 L117.29,49.68 L117.60,49.83 L117.91,49.98 L118.22,50.13 L118.54,50.28 L118.85,50.44 L119.16,50.59 L119.47,50.72 L119.78,50.75 L120.10,50.71 L120.41,50.62 L120.72,50.49 L121.03,50.34 L121.34,50.21 L121.66,50.10 L121.97,50.04 L122.28,50.04 L122.59,50.11 L122.90,50.22 L123.22,50.34 L123.53,50.46 L123.84,50.58 L124.15,50.71 L124.46,50.84 L124.78,50.97 L125.09,51.10 L125.40,51.23 L125.71,51.37 L126.02,51.51 L126.34,51.64 L126.65,51.78 L126.96,51.92 L127.27,52.06 L127.58,52.21 L127.90,52.35 L128.21,52.49 L128.52,52.64 L128.83,52.78 L129.14,52.93 L129.46,53.08 L129.77,53.23 L130.08,53.38 L130.39,53.53 L130.70,53.68 L131.02,53.83 L131.33,53.97 L131.64,54.11 L131.95,54.23 L132.26,54.25 L132.58,54.21 L132.89,54.11 L133.20,53.97 L133.51,53.81 L133.82,53.66 L134.14,53.54 L134.45,53.46 L134.76,53.45 L135.07,53.50 L135.38,53.60 L135.70,53.71 L136.01,53.81 L136.32,53.93 L136.63,54.04 L136.94,54.16 L137.26,54.27 L137.57,54.39 L137.88,54.51 L138.19,54.64 L138.50,54.76 L138.82,54.89 L139.13,55.01 L139.44,55.14 L139.75,55.27 L140.06,55.40 L140.38,55.53 L140.69,55.67 L141.00,55.80 L141.31,55.93 L141.62,56.07 L141.94,56.20 L142.25,56.34 L142.56,56.48 L142.87,56.61 L143.18,56.75 L143.50,56.89 L143.81,57.03 L144.12,57.17 L144.43,57.30 L144.74,57.33 L145.06,57.29 L145.37,57.19 L145.68,57.05 L145.99,56.89 L146.30,56.74 L146.62,56.62 L146.93,56.54 L147.24,56.52 L147.55,56.57 L147.86,56.67 L148.18,56.77 L148.49,56.88 L148.80,56.99 L149.11,57.10 L149.42,57.22 L149.74,57.34 L150.05,57.46 L150.36,57.58 L150.67,57.70 L150.98,57.83 L151.30,57.95 L151.61,58.08 L151.92,58.21 L152.23,58.34 L152.54,58.47 L152.86,58.60 L153.17,58.73 L153.48,58.86 L153.79,59.00 L154.10,59.13 L154.42,59.27 L154.73,59.40 L155.04,59.54 L155.35,59.68 L155.66,59.82 L155.98,59.96 L156.29,60.11 L156.60,60.25 L156.91,60.39 L157.22,60.42 L157.54,60.39 L157.85,60.29 L158.16,60.16 L158.47,60.01 L158.78,59.86 L159.10,59.73 L159.41,59.65 L159.72,59.63 L160.03,59.68 L160.34,59.78 L160.66,59.89 L160.97,60.00 L161.28,60.11 L161.59,60.23 L161.90,60.34 L162.22,60.46 L162.53,60.59 L162.84,60.71 L163.15,60.84 L163.46,60.96 L163.78,61.09 L164.09,61.22 L164.40,61.35 L164.71,61.48 L165.02,61.62 L165.34,61.75 L165.65,61.88 L165.96,62.02 L166.27,62.16 L166.58,62.29 L166.90,62.43 L167.21,62.57 L167.52,62.71 L167.83,62.85 L168.14,62.99 L168.46,63.13 L168.77,63.28 L169.08,63.42 L169.39,63.56 L169.70,63.60 L170.02,63.57 L170.33,63.48 L170.64,63.35 L170.95,63.20 L171.26,63.04 L171.58,62.92 L171.89,62.83 L172.20,62.81 L172.51,62.85 L172.82,62.95 L173.14,63.06 L173.45,63.17 L173.76,63.28 L174.07,63.40 L174.38,63.52 L174.70,63.64 L175.01,63.76 L175.32,63.88 L175.63,64.01 L175.94,64.13 L176.26,64.26 L176.57,64.39 L176.88,64.52 L177.19,64.65 L177.50,64.79 L177.82,64.92 L178.13,65.05 L178.44,65.19 L178.75,65.33 L179.06,65.46 L179.38,65.60 L179.69,65.74 L180.00,65.88 L180.31,66.02 L180.62,66.16 L180.94,66.30 L181.25,66.45 L181.56,66.59 L181.87,66.73 L182.18,66.78 L182.50,66.75 L182.81,66.66 L183.12,66.54 L183.43,66.38 L183.74,66.23 L184.06,66.10 L184.37,66.01 L184.68,65.99 L184.99,66.03 L185.30,66.12 L185.62,66.23 L185.93,66.34 L186.24,66.45 L186.55,66.57 L186.86,66.69 L187.18,66.81 L187.49,66.93 L187.80,67.05 L188.11,67.18 L188.42,67.30 L188.74,67.43 L189.05,67.56 L189.36,67.69 L189.67,67.82 L189.98,67.96 L190.30,68.07 L190.61,68.18 L190.92,68.30 L191.23,68.41 L191.54,68.53 L191.86,68.65 L192.17,68.77 L192.48,68.89 L192.79,69.01 L193.10,69.13 L193.42,69.25 L193.73,69.37 L194.04,69.49 L194.35,69.62 L194.66,69.65 L194.98,69.61 L195.29,69.50 L195.60,69.36 L195.91,69.19 L196.22,69.01 L196.54,68.86 L196.85,68.75 L197.16,68.70 L197.47,68.71 L197.78,68.79 L198.10,68.87 L198.41,68.96 L198.72,69.05 L199.03,69.15 L199.34,69.25 L199.66,69.35 L199.97,69.45 L200.28,69.55 L200.59,69.66 L200.90,69.76 L201.22,69.87 L201.53,69.98 L201.84,70.09 L202.15,70.20 L202.46,70.31 L202.78,70.42 L203.09,70.54 L203.40,70.65 L203.71,70.77 L204.02,70.89 L204.34,71.00 L204.65,71.12 L204.96,71.24 L205.27,71.36 L205.58,71.48 L205.90,71.60 L206.21,71.72 L206.52,71.85 L206.83,71.97 L207.14,72.01 L207.46,71.97 L207.77,71.87 L208.08,71.73 L208.39,71.57 L208.70,71.40 L209.02,71.25 L209.33,71.15 L209.64,71.10 L209.95,71.11 L210.26,71.19 L210.58,71.29 L210.89,71.38 L211.20,71.48 L211.51,71.58 L211.82,71.69 L212.14,71.80 L212.45,71.90 L212.76,72.01 L213.07,72.13 L213.38,72.24 L213.70,72.35 L214.01,72.47 L214.32,72.59 L214.63,72.70 L214.94,72.82 L215.26,72.94 L215.57,73.06 L215.88,73.19 L216.19,73.31 L216.50,73.43 L216.82,73.56 L217.13,73.68 L217.44,73.81 L217.75,73.94 L218.06,74.06 L218.38,74.19 L218.69,74.32 L219.00,74.45 L219.31,74.58 L219.62,74.64 L219.94,74.61 L220.25,74.52 L220.56,74.39 L220.87,74.23 L221.18,74.06 L221.50,73.91 L221.81,73.80 L222.12,73.74 L222.43,73.76 L222.74,73.84 L223.06,73.93 L223.37,74.02 L223.68,74.12 L223.99,74.22 L224.30,74.33 L224.62,74.44 L224.93,74.54 L225.24,74.66 L225.55,74.78 L225.86,74.90 L226.18,75.03 L226.49,75.15 L226.80,75.28 L227.11,75.41 L227.42,75.54 L227.74,75.67 L228.05,75.80 L228.36,75.93 L228.67,76.06 L228.98,76.19 L229.30,76.33 L229.61,76.46 L229.92,76.60 L230.23,76.73 L230.54,76.87 L230.86,77.01 L231.17,77.15 L231.48,77.29 L231.79,77.43 L232.10,77.50 L232.42,77.49 L232.73,77.41 L233.04,77.29 L233.35,77.14 L233.66,76.98 L233.98,76.84 L234.29,76.73 L234.60,76.68 L234.91,76.70 L235.22,76.79 L235.54,76.89 L235.85,76.99 L236.16,77.10 L236.47,77.21 L236.78,77.33 L237.10,77.44 L237.41,77.56 L237.72,77.68 L238.03,77.80 L238.34,77.92 L238.66,78.05 L238.97,78.17 L239.28,78.30 L239.59,78.43 L239.90,78.55 L240.22,78.68 L240.53,78.81 L240.84,78.94 L241.15,79.08 L241.46,79.21 L241.78,79.34 L242.09,79.48 L242.40,79.61 L242.71,79.75 L243.02,79.89 L243.34,80.03 L243.65,80.16 L243.96,80.30 L244.27,80.44 L244.58,80.52 L244.90,80.52 L245.21,80.44 L245.52,80.32 L245.83,80.17 L246.14,80.01 L246.46,79.87 L246.77,79.76 L247.08,79.71 L247.39,79.72 L247.70,79.81 L248.02,79.91 L248.33,80.01 L248.64,80.12 L248.95,80.23 L249.26,80.34 L249.58,80.46 L249.89,80.58 L250.20,80.70" fill="none" stroke="#ff8424" stroke-width="1.95" stroke-dasharray="6.3,2,1.8,2.2,1.8,2.4" stroke-linecap="butt" stroke-linejoin="round" />
<path d="M63.00,36.30 L63.31,36.42 L63.62,36.55 L63.94,36.67 L64.25,36.79 L64.56,36.91 L64.87,37.04 L65.18,37.16 L65.50,37.28 L65.81,37.41 L66.12,37.53 L66.43,37.65 L66.74,37.78 L67.06,37.90 L67.37,38.02 L67.68,38.14 L67.99,38.27 L68.30,38.39 L68.62,38.51 L68.93,38.64 L69.24,38.76 L69.55,38.88 L69.86,39.01 L70.18,39.13 L70.49,39.25 L70.80,39.37 L71.11,39.50 L71.42,39.62 L71.74,39.74 L72.05,39.87 L72.36,39.99 L72.67,40.11 L72.98,40.23 L73.30,40.36 L73.61,40.48 L73.92,40.60 L74.23,40.73 L74.54,40.85 L74.86,40.97 L75.17,41.10 L75.48,41.22 L75.79,41.34 L76.10,41.46 L76.42,41.59 L76.73,41.71 L77.04,41.83 L77.35,41.96 L77.66,42.08 L77.98,42.20 L78.29,42.33 L78.60,42.45 L78.91,42.57 L79.22,42.69 L79.54,42.82 L79.85,42.94 L80.16,43.07 L80.47,43.19 L80.78,43.32 L81.10,43.45 L81.41,43.58 L81.72,43.71 L82.03,43.84 L82.34,43.97 L82.66,44.10 L82.97,44.22 L83.28,44.35 L83.59,44.48 L83.90,44.61 L84.22,44.74 L84.53,44.87 L84.84,45.00 L85.15,45.13 L85.46,45.25 L85.78,45.38 L86.09,45.51 L86.40,45.64 L86.71,45.77 L87.02,45.90 L87.34,46.03 L87.65,46.15 L87.96,46.28 L88.27,46.41 L88.58,46.54 L88.90,46.67 L89.21,46.80 L89.52,46.93 L89.83,47.06 L90.14,47.18 L90.46,47.31 L90.77,47.44 L91.08,47.57 L91.39,47.70 L91.70,47.83 L92.02,47.96 L92.33,48.09 L92.64,48.21 L92.95,48.34 L93.26,48.47 L93.58,48.60 L93.89,48.73 L94.20,48.86 L94.51,48.99 L94.82,49.11 L95.14,49.24 L95.45,49.37 L95.76,49.50 L96.07,49.63 L96.38,49.74 L96.70,49.86 L97.01,49.99 L97.32,50.12 L97.63,50.25 L97.94,50.39 L98.26,50.53 L98.57,50.68 L98.88,50.83 L99.19,50.98 L99.50,51.14 L99.82,51.30 L100.13,51.47 L100.44,51.64 L100.75,51.73 L101.06,51.74 L101.38,51.67 L101.69,51.52 L102.00,51.33 L102.31,51.11 L102.62,50.91 L102.94,50.76 L103.25,50.69 L103.56,50.77 L103.87,50.91 L104.18,51.05 L104.50,51.19 L104.81,51.33 L105.12,51.48 L105.43,51.62 L105.74,51.77 L106.06,51.92 L106.37,52.07 L106.68,52.22 L106.99,52.37 L107.30,52.52 L107.62,52.68 L107.93,52.83 L108.24,52.98 L108.55,53.14 L108.86,53.30 L109.18,53.45 L109.49,53.61 L109.80,53.77 L110.11,53.93 L110.42,54.09 L110.74,54.25 L111.05,54.41 L111.36,54.57 L111.67,54.74 L111.98,54.90 L112.30,55.06 L112.61,55.23 L112.92,55.39 L113.23,55.56 L113.54,55.73 L113.86,55.89 L114.17,56.06 L114.48,56.23 L114.79,56.40 L115.10,56.57 L115.42,56.74 L115.73,56.91 L116.04,57.08 L116.35,57.25 L116.66,57.42 L116.98,57.60 L117.29,57.77 L117.60,57.94 L117.91,58.12 L118.22,58.29 L118.54,58.47 L118.85,58.65 L119.16,58.82 L119.47,59.00 L119.78,59.18 L120.10,59.35 L120.41,59.53 L120.72,59.71 L121.03,59.89 L121.34,60.07 L121.66,60.25 L121.97,60.43 L122.28,60.61 L122.59,60.80 L122.90,60.98 L123.22,61.16 L123.53,61.35 L123.84,61.53 L124.15,61.71 L124.46,61.90 L124.78,62.08 L125.09,62.27 L125.40,62.45 L125.71,62.53 L126.02,62.49 L126.34,62.35 L126.65,62.14 L126.96,61.90 L127.27,61.67 L127.58,61.49 L127.90,61.38 L128.21,61.37 L128.52,61.48 L128.83,61.61 L129.14,61.74 L129.46,61.88 L129.77,62.02 L130.08,62.16 L130.39,62.30 L130.70,62.44 L131.02,62.58 L131.33,62.72 L131.64,62.87 L131.95,63.01 L132.26,63.16 L132.58,63.31 L132.89,63.45 L133.20,63.60 L133.51,63.75 L133.82,63.90 L134.14,64.05 L134.45,64.21 L134.76,64.36 L135.07,64.51 L135.38,64.67 L135.70,64.82 L136.01,64.98 L136.32,65.13 L136.63,65.29 L136.94,65.45 L137.26,65.61 L137.57,65.76 L137.88,65.92 L138.19,66.08 L138.50,66.24 L138.82,66.41 L139.13,66.57 L139.44,66.73 L139.75,66.89 L140.06,67.06 L140.38,67.22 L140.69,67.39 L141.00,67.55 L141.31,67.72 L141.62,67.88 L141.94,68.05 L142.25,68.22 L142.56,68.39 L142.87,68.55 L143.18,68.72 L143.50,68.89 L143.81,69.06 L144.12,69.23 L144.43,69.41 L144.74,69.58 L145.06,69.75 L145.37,69.92 L145.68,70.09 L145.99,70.27 L146.30,70.44 L146.62,70.62 L146.93,70.79 L147.24,70.97 L147.55,71.14 L147.86,71.32 L148.18,71.50 L148.49,71.67 L148.80,71.85 L149.11,72.03 L149.42,72.21 L149.74,72.39 L150.05,72.57 L150.36,72.75 L150.67,72.84 L150.98,72.80 L151.30,72.67 L151.61,72.47 L151.92,72.22 L152.23,71.98 L152.54,71.79 L152.86,71.66 L153.17,71.63 L153.48,71.72 L153.79,71.84 L154.10,71.96 L154.42,72.08 L154.73,72.21 L155.04,72.34 L155.35,72.46 L155.66,72.59 L155.98,72.72 L156.29,72.85 L156.60,72.99 L156.91,73.12 L157.22,73.26 L157.54,73.39 L157.85,73.53 L158.16,73.66 L158.47,73.80 L158.78,73.94 L159.10,74.08 L159.41,74.22 L159.72,74.36 L160.03,74.50 L160.34,74.64 L160.66,74.79 L160.97,74.93 L161.28,75.08 L161.59,75.22 L161.90,75.37 L162.22,75.51 L162.53,75.66 L162.84,75.81 L163.15,75.96 L163.46,76.10 L163.78,76.25 L164.09,76.40 L164.40,76.55 L164.71,76.71 L165.02,76.86 L165.34,77.01 L165.65,77.16 L165.96,77.32 L166.27,77.47 L166.58,77.63 L166.90,77.78 L167.21,77.94 L167.52,78.09 L167.83,78.25 L168.14,78.41 L168.46,78.56 L168.77,78.72 L169.08,78.88 L169.39,79.04 L169.70,79.20 L170.02,79.36 L170.33,79.52 L170.64,79.68 L170.95,79.85 L171.26,80.01 L171.58,80.17 L171.89,80.33 L172.20,80.50 L172.51,80.66 L172.82,80.83 L173.14,80.99 L173.45,81.16 L173.76,81.32 L174.07,81.49 L174.38,81.66 L174.70,81.83 L175.01,81.99 L175.32,82.16 L175.63,82.26 L175.94,82.23 L176.26,82.09 L176.57,81.88 L176.88,81.63 L177.19,81.38 L177.50,81.16 L177.82,81.02 L178.13,80.97 L178.44,81.04 L178.75,81.17 L179.06,81.31 L179.38,81.45 L179.69,81.59 L180.00,81.74 L180.31,81.88 L180.62,82.03 L180.94,82.18 L181.25,82.33 L181.56,82.48 L181.87,82.63 L182.18,82.78 L182.50,82.93 L182.81,83.09 L183.12,83.24 L183.43,83.40 L183.74,83.55 L184.06,83.71 L184.37,83.87 L184.68,84.03 L184.99,84.19 L185.30,84.35 L185.62,84.51 L185.93,84.67 L186.24,84.83 L186.55,84.99 L186.86,85.16 L187.18,85.32 L187.49,85.48 L187.80,85.65 L188.11,85.81 L188.42,85.98 L188.74,86.15 L189.05,86.32 L189.36,86.48 L189.67,86.65 L189.98,86.82 L190.30,86.99 L190.61,87.16 L190.92,87.33 L191.23,87.51 L191.54,87.68 L191.86,87.85 L192.17,88.03 L192.48,88.20 L192.79,88.37 L193.10,88.55 L193.42,88.72 L193.73,88.90 L194.04,89.08 L194.35,89.25 L194.66,89.43 L194.98,89.61 L195.29,89.79 L195.60,89.97 L195.91,90.15 L196.22,90.33 L196.54,90.51 L196.85,90.69 L197.16,90.87 L197.47,91.05 L197.78,91.23 L198.10,91.42 L198.41,91.60 L198.72,91.78 L199.03,91.97 L199.34,92.15 L199.66,92.34 L199.97,92.52 L200.28,92.71 L200.59,92.84 L200.90,92.84 L201.22,92.74 L201.53,92.55 L201.84,92.32 L202.15,92.09 L202.46,91.88 L202.78,91.74 L203.09,91.70 L203.40,91.76 L203.71,91.89 L204.02,92.03 L204.34,92.16 L204.65,92.30 L204.96,92.44 L205.27,92.58 L205.58,92.72 L205.90,92.86 L206.21,93.00 L206.52,93.14 L206.83,93.29 L207.14,93.43 L207.46,93.58 L207.77,93.73 L208.08,93.87 L208.39,94.02 L208.70,94.17 L209.02,94.32 L209.33,94.47 L209.64,94.63 L209.95,94.78 L210.26,94.93 L210.58,95.09 L210.89,95.24 L211.20,95.40 L211.51,95.55 L211.82,95.71 L212.14,95.87 L212.45,96.03 L212.76,96.18 L213.07,96.34 L213.38,96.50 L213.70,96.66 L214.01,96.83 L214.32,96.99 L214.63,97.15 L214.94,97.31 L215.26,97.48 L215.57,97.64 L215.88,97.80 L216.19,97.97 L216.50,98.14 L216.82,98.30 L217.13,98.47 L217.44,98.64 L217.75,98.80 L218.06,98.97 L218.38,99.14 L218.69,99.31 L219.00,99.48 L219.31,99.65 L219.62,99.82 L219.94,99.99 L220.25,100.17 L220.56,100.34 L220.87,100.51 L221.18,100.69 L221.50,100.86 L221.81,101.03 L222.12,101.21 L222.43,101.38 L222.74,101.56 L223.06,101.74 L223.37,101.91 L223.68,102.09 L223.99,102.27 L224.30,102.45 L224.62,102.63 L224.93,102.80 L225.24,102.98 L225.55,103.12 L225.86,103.13 L226.18,103.03 L226.49,102.85 L226.80,102.62 L227.11,102.37 L227.42,102.16 L227.74,102.00 L228.05,101.93 L228.36,101.98 L228.67,102.10 L228.98,102.23 L229.30,102.36 L229.61,102.49 L229.92,102.62 L230.23,102.75 L230.54,102.89 L230.86,103.02 L231.17,103.16 L231.48,103.30 L231.79,103.43 L232.10,103.57 L232.42,103.71 L232.73,103.85 L233.04,104.00 L233.35,104.14 L233.66,104.28 L233.98,104.43 L234.29,104.57 L234.60,104.72 L234.91,104.86 L235.22,105.01 L235.54,105.16 L235.85,105.31 L236.16,105.46 L236.47,105.61 L236.78,105.76 L237.10,105.91 L237.41,106.06 L237.72,106.21 L238.03,106.37 L238.34,106.52 L238.66,106.67 L238.97,106.83 L239.28,106.99 L239.59,107.14 L239.90,107.30 L240.22,107.46 L240.53,107.61 L240.84,107.77 L241.15,107.93 L241.46,108.09 L241.78,108.25 L242.09,108.41 L242.40,108.57 L242.71,108.73 L243.02,108.90 L243.34,109.06 L243.65,109.22 L243.96,109.39 L244.27,109.55 L244.58,109.72 L244.90,109.88 L245.21,110.05 L245.52,110.21 L245.83,110.38 L246.14,110.55 L246.46,110.72 L246.77,110.88 L247.08,111.05 L247.39,111.22 L247.70,111.39 L248.02,111.56 L248.33,111.73 L248.64,111.90 L248.95,112.08 L249.26,112.25 L249.58,112.42 L249.89,112.59 L250.20,112.77" fill="none" stroke="#ff66ff" stroke-width="1.95" stroke-linecap="butt" stroke-linejoin="round" />
<path d="M63.00,36.30 L63.31,36.46 L63.62,36.62 L63.94,36.78 L64.25,36.94 L64.56,37.10 L64.87,37.26 L65.18,37.42 L65.50,37.58 L65.81,37.74 L66.12,37.90 L66.43,38.06 L66.74,38.22 L67.06,38.38 L67.37,38.54 L67.68,38.70 L67.99,38.86 L68.30,39.02 L68.62,39.18 L68.93,39.34 L69.24,39.51 L69.55,39.67 L69.86,39.83 L70.18,39.99 L70.49,40.15 L70.80,40.31 L71.11,40.47 L71.42,40.63 L71.74,40.79 L72.05,40.95 L72.36,41.11 L72.67,41.27 L72.98,41.43 L73.30,41.59 L73.61,41.75 L73.92,41.91 L74.23,42.07 L74.54,42.23 L74.86,42.39 L75.17,42.55 L75.48,42.71 L75.79,42.87 L76.10,43.03 L76.42,43.19 L76.73,43.35 L77.04,43.51 L77.35,43.67 L77.66,43.83 L77.98,43.99 L78.29,44.15 L78.60,44.31 L78.91,44.47 L79.22,44.63 L79.54,44.79 L79.85,44.95 L80.16,45.11 L80.47,45.27 L80.78,45.43 L81.10,45.59 L81.41,45.76 L81.72,45.92 L82.03,46.08 L82.34,46.24 L82.66,46.40 L82.97,46.56 L83.28,46.72 L83.59,46.88 L83.90,47.04 L84.22,47.20 L84.53,47.36 L84.84,47.52 L85.15,47.66 L85.46,47.79 L85.78,47.91 L86.09,48.04 L86.40,48.16 L86.71,48.29 L87.02,48.41 L87.34,48.54 L87.65,48.66 L87.96,48.79 L88.27,48.91 L88.58,49.04 L88.90,49.16 L89.21,49.29 L89.52,49.41 L89.83,49.54 L90.14,49.66 L90.46,49.79 L90.77,49.91 L91.08,50.04 L91.39,50.16 L91.70,50.29 L92.02,50.41 L92.33,50.54 L92.64,50.66 L92.95,50.79 L93.26,50.91 L93.58,51.04 L93.89,51.16 L94.20,51.29 L94.51,51.41 L94.82,51.54 L95.14,51.66 L95.45,51.79 L95.76,51.92 L96.07,52.04 L96.38,52.17 L96.70,52.29 L97.01,52.42 L97.32,52.54 L97.63,52.67 L97.94,52.79 L98.26,52.92 L98.57,53.04 L98.88,53.17 L99.19,53.29 L99.50,53.42 L99.82,53.54 L100.13,53.67 L100.44,53.79 L100.75,53.92 L101.06,54.04 L101.38,54.17 L101.69,54.29 L102.00,54.42 L102.31,54.54 L102.62,54.67 L102.94,54.79 L103.25,54.92 L103.56,55.04 L103.87,55.17 L104.18,55.29 L104.50,55.46 L104.81,55.62 L105.12,55.79 L105.43,55.96 L105.74,56.12 L106.06,56.29 L106.37,56.46 L106.68,56.62 L106.99,56.79 L107.30,56.96 L107.62,57.12 L107.93,57.29 L108.24,57.46 L108.55,57.62 L108.86,57.79 L109.18,57.96 L109.49,58.12 L109.80,58.29 L110.11,58.46 L110.42,58.62 L110.74,58.79 L111.05,58.96 L111.36,59.12 L111.67,59.29 L111.98,59.46 L112.30,59.62 L112.61,59.79 L112.92,59.96 L113.23,60.12 L113.54,60.29 L113.86,60.46 L114.17,60.62 L114.48,60.79 L114.79,60.96 L115.10,61.12 L115.42,61.29 L115.73,61.46 L116.04,61.62 L116.35,61.79 L116.66,61.96 L116.98,62.12 L117.29,62.29 L117.60,62.46 L117.91,62.62 L118.22,62.79 L118.54,62.96 L118.85,63.12 L119.16,63.29 L119.47,63.46 L119.78,63.62 L120.10,63.79 L120.41,63.96 L120.72,64.12 L121.03,64.29 L121.34,64.46 L121.66,64.62 L121.97,64.79 L122.28,64.96 L122.59,65.12 L122.90,65.29 L123.22,65.46 L123.53,65.61 L123.84,65.77 L124.15,65.92 L124.46,66.07 L124.78,66.23 L125.09,66.38 L125.40,66.54 L125.71,66.69 L126.02,66.84 L126.34,67.00 L126.65,67.15 L126.96,67.30 L127.27,67.46 L127.58,67.61 L127.90,67.77 L128.21,67.92 L128.52,68.07 L128.83,68.23 L129.14,68.38 L129.46,68.54 L129.77,68.69 L130.08,68.86 L130.39,69.08 L130.70,69.30 L131.02,69.52 L131.33,69.74 L131.64,69.96 L131.95,70.19 L132.26,70.41 L132.58,70.64 L132.89,70.87 L133.20,71.10 L133.51,71.34 L133.82,71.57 L134.14,71.81 L134.45,72.04 L134.76,72.28 L135.07,72.52 L135.38,72.76 L135.70,73.01 L136.01,73.25 L136.32,73.50 L136.63,73.75 L136.94,73.99 L137.26,74.20 L137.57,74.36 L137.88,74.45 L138.19,74.46 L138.50,74.43 L138.82,74.38 L139.13,74.29 L139.44,74.18 L139.75,74.06 L140.06,73.94 L140.38,73.82 L140.69,73.73 L141.00,73.66 L141.31,73.64 L141.62,73.66 L141.94,73.77 L142.25,73.94 L142.56,74.11 L142.87,74.28 L143.18,74.44 L143.50,74.62 L143.81,74.79 L144.12,74.96 L144.43,75.13 L144.74,75.30 L145.06,75.47 L145.37,75.65 L145.68,75.82 L145.99,76.00 L146.30,76.17 L146.62,76.34 L146.93,76.52 L147.24,76.69 L147.55,76.87 L147.86,77.05 L148.18,77.22 L148.49,77.40 L148.80,77.58 L149.11,77.75 L149.42,77.93 L149.74,78.11 L150.05,78.28 L150.36,78.46 L150.67,78.64 L150.98,78.82 L151.30,79.00 L151.61,79.18 L151.92,79.35 L152.23,79.53 L152.54,79.71 L152.86,79.89 L153.17,80.07 L153.48,80.25 L153.79,80.43 L154.10,80.61 L154.42,80.79 L154.73,80.97 L155.04,81.15 L155.35,81.33 L155.66,81.51 L155.98,81.70 L156.29,81.88 L156.60,82.06 L156.91,82.24 L157.22,82.42 L157.54,82.60 L157.85,82.79 L158.16,82.97 L158.47,83.15 L158.78,83.33 L159.10,83.52 L159.41,83.70 L159.72,83.88 L160.03,84.07 L160.34,84.25 L160.66,84.43 L160.97,84.62 L161.28,84.80 L161.59,84.98 L161.90,85.17 L162.22,85.35 L162.53,85.54 L162.84,85.72 L163.15,85.91 L163.46,86.09 L163.78,86.28 L164.09,86.46 L164.40,86.65 L164.71,86.83 L165.02,87.02 L165.34,87.20 L165.65,87.39 L165.96,87.57 L166.27,87.76 L166.58,87.94 L166.90,88.13 L167.21,88.32 L167.52,88.50 L167.83,88.69 L168.14,88.88 L168.46,89.06 L168.77,89.25 L169.08,89.44 L169.39,89.62 L169.70,89.81 L170.02,90.00 L170.33,90.18 L170.64,90.37 L170.95,90.56 L171.26,90.75 L171.58,90.93 L171.89,91.12 L172.20,91.31 L172.51,91.50 L172.82,91.69 L173.14,91.87 L173.45,92.06 L173.76,92.25 L174.07,92.44 L174.38,92.63 L174.70,92.82 L175.01,93.01 L175.32,93.19 L175.63,93.38 L175.94,93.57 L176.26,93.76 L176.57,93.95 L176.88,94.14 L177.19,94.33 L177.50,94.52 L177.82,94.71 L178.13,94.90 L178.44,95.09 L178.75,95.28 L179.06,95.47 L179.38,95.66 L179.69,95.85 L180.00,96.04 L180.31,96.23 L180.62,96.42 L180.94,96.61 L181.25,96.80 L181.56,96.99 L181.87,97.18 L182.18,97.37 L182.50,97.56 L182.81,97.76 L183.12,97.95 L183.43,98.14 L183.74,98.33 L184.06,98.52 L184.37,98.71 L184.68,98.90 L184.99,99.10 L185.30,99.29 L185.62,99.48 L185.93,99.67 L186.24,99.86 L186.55,100.02 L186.86,100.12 L187.18,100.16 L187.49,100.15 L187.80,100.10 L188.11,100.01 L188.42,99.89 L188.74,99.76 L189.05,99.63 L189.36,99.50 L189.67,99.40 L189.98,99.32 L190.30,99.28 L190.61,99.29 L190.92,99.36 L191.23,99.48 L191.54,99.64 L191.86,99.81 L192.17,99.98 L192.48,100.15 L192.79,100.32 L193.10,100.49 L193.42,100.66 L193.73,100.83 L194.04,101.01 L194.35,101.18 L194.66,101.35 L194.98,101.53 L195.29,101.70 L195.60,101.88 L195.91,102.05 L196.22,102.23 L196.54,102.40 L196.85,102.58 L197.16,102.75 L197.47,102.93 L197.78,103.11 L198.10,103.28 L198.41,103.46 L198.72,103.64 L199.03,103.82 L199.34,103.99 L199.66,104.17 L199.97,104.35 L200.28,104.53 L200.59,104.71 L200.90,104.89 L201.22,105.07 L201.53,105.24 L201.84,105.42 L202.15,105.60 L202.46,105.78 L202.78,105.96 L203.09,106.14 L203.40,106.33 L203.71,106.51 L204.02,106.69 L204.34,106.87 L204.65,107.05 L204.96,107.23 L205.27,107.41 L205.58,107.59 L205.90,107.78 L206.21,107.96 L206.52,108.14 L206.83,108.32 L207.14,108.51 L207.46,108.69 L207.77,108.87 L208.08,109.05 L208.39,109.24 L208.70,109.42 L209.02,109.60 L209.33,109.79 L209.64,109.97 L209.95,110.15 L210.26,110.34 L210.58,110.52 L210.89,110.71 L211.20,110.89 L211.51,111.08 L211.82,111.26 L212.14,111.45 L212.45,111.63 L212.76,111.82 L213.07,112.00 L213.38,112.19 L213.70,112.37 L214.01,112.56 L214.32,112.74 L214.63,112.93 L214.94,113.11 L215.26,113.30 L215.57,113.49 L215.88,113.67 L216.19,113.86 L216.50,114.05 L216.82,114.23 L217.13,114.42 L217.44,114.61 L217.75,114.79 L218.06,114.98 L218.38,115.17 L218.69,115.35 L219.00,115.54 L219.31,115.73 L219.62,115.92 L219.94,116.10 L220.25,116.29 L220.56,116.48 L220.87,116.67 L221.18,116.86 L221.50,117.05 L221.81,117.23 L222.12,117.42 L222.43,117.61 L222.74,117.80 L223.06,117.99 L223.37,118.18 L223.68,118.37 L223.99,118.56 L224.30,118.74 L224.62,118.93 L224.93,119.12 L225.24,119.31 L225.55,119.50 L225.86,119.69 L226.18,119.88 L226.49,120.07 L226.80,120.26 L227.11,120.45 L227.42,120.64 L227.74,120.83 L228.05,121.02 L228.36,121.21 L228.67,121.40 L228.98,121.59 L229.30,121.78 L229.61,121.98 L229.92,122.17 L230.23,122.36 L230.54,122.55 L230.86,122.74 L231.17,122.93 L231.48,123.12 L231.79,123.31 L232.10,123.51 L232.42,123.70 L232.73,123.89 L233.04,124.08 L233.35,124.27 L233.66,124.46 L233.98,124.66 L234.29,124.85 L234.60,125.04 L234.91,125.23 L235.22,125.43 L235.54,125.62 L235.85,125.81 L236.16,125.94 L236.47,126.02 L236.78,126.04 L237.10,126.02 L237.41,125.95 L237.72,125.85 L238.03,125.73 L238.34,125.60 L238.66,125.47 L238.97,125.35 L239.28,125.25 L239.59,125.19 L239.90,125.17 L240.22,125.20 L240.53,125.28 L240.84,125.41 L241.15,125.52 L241.46,125.62 L241.78,125.73 L242.09,125.83 L242.40,125.94 L242.71,126.05 L243.02,126.15 L243.34,126.26 L243.65,126.37 L243.96,126.48 L244.27,126.59 L244.58,126.70 L244.90,126.81 L245.21,126.92 L245.52,127.04 L245.83,127.15 L246.14,127.26 L246.46,127.37 L246.77,127.48 L247.08,127.60 L247.39,127.71 L247.70,127.82 L248.02,127.94 L248.33,128.05 L248.64,128.17 L248.95,128.28 L249.26,128.39 L249.58,128.51 L249.89,128.62 L250.20,128.74" fill="none" stroke="#555555" stroke-width="1.95" stroke-dasharray="6.3,2.6,1.8,2.7" stroke-linecap="butt" stroke-linejoin="round" />
<path d="M63.00,36.30 L85.00,47.60 L104.20,58.20 L125.00,72.00 L160.00,94.00 L250.20,150.30" fill="none" stroke="#a03535" stroke-width="1.95" stroke-dasharray="6,2,6,2.5,1.6,2.5" stroke-linecap="butt" stroke-linejoin="round" />
<text x="81.50" y="100.80" font-size="13" text-anchor="start" >(<tspan font-style="italic">a</tspan>)</text>
<text x="117.60" y="120.70" font-size="12.5" text-anchor="end" >Δt = 2 ps</text>
<path d="M123,118.40 L154.7,118.40" fill="none" stroke="#1c46e2" stroke-width="1.95" stroke-dasharray="5.2,1.9" stroke-linecap="butt" stroke-linejoin="round" />
<text x="117.60" y="132.90" font-size="12.5" text-anchor="end" >4 ps</text>
<path d="M123,130.60 L154.7,130.60" fill="none" stroke="#1fae3a" stroke-width="1.95" stroke-dasharray="2,1.87" stroke-linecap="butt" stroke-linejoin="round" />
<text x="117.60" y="145.10" font-size="12.5" text-anchor="end" >10 ps</text>
<path d="M123,142.80 L154.7,142.80" fill="none" stroke="#ff8424" stroke-width="1.95" stroke-dasharray="6.3,2,1.8,2.2,1.8,2.4" stroke-linecap="butt" stroke-linejoin="round" />
<text x="117.60" y="157.30" font-size="12.5" text-anchor="end" >20 ps</text>
<path d="M123,155.00 L154.7,155.00" fill="none" stroke="#ff66ff" stroke-width="1.95" stroke-linecap="butt" stroke-linejoin="round" />
<text x="117.60" y="169.50" font-size="12.5" text-anchor="end" >40 ps</text>
<path d="M123,167.20 L154.7,167.20" fill="none" stroke="#555555" stroke-width="1.95" stroke-dasharray="6.3,2.6,1.8,2.7" stroke-linecap="butt" stroke-linejoin="round" />
<text x="166.00" y="148.60" font-size="14" text-anchor="start" >40 K</text>
<text x="166" y="168" font-size="14.4">5×10<tspan dx="3.2" dy="-7.5" font-size="11.5">11</tspan><tspan dx="6" dy="7.5">cm</tspan><tspan dx="1.5" dy="-7.5" font-size="11.5">-2</tspan></text>
<rect x="325.80" y="11.10" width="194.30" height="168.10" fill="none" stroke="#505050" stroke-width="1.15"/>
<line x1="325.70" y1="179.20" x2="325.70" y2="176.00" stroke="#505050" stroke-width="0.9"/>
<line x1="325.70" y1="11.10" x2="325.70" y2="14.30" stroke="#505050" stroke-width="0.9"/>
<line x1="397.90" y1="179.20" x2="397.90" y2="176.00" stroke="#505050" stroke-width="0.9"/>
<line x1="397.90" y1="11.10" x2="397.90" y2="14.30" stroke="#505050" stroke-width="0.9"/>
<line x1="470.10" y1="179.20" x2="470.10" y2="176.00" stroke="#505050" stroke-width="0.9"/>
<line x1="470.10" y1="11.10" x2="470.10" y2="14.30" stroke="#505050" stroke-width="0.9"/>
<line x1="347.43" y1="179.20" x2="347.43" y2="177.60" stroke="#505050" stroke-width="0.9"/>
<line x1="347.43" y1="11.10" x2="347.43" y2="12.70" stroke="#505050" stroke-width="0.9"/>
<line x1="360.15" y1="179.20" x2="360.15" y2="177.60" stroke="#505050" stroke-width="0.9"/>
<line x1="360.15" y1="11.10" x2="360.15" y2="12.70" stroke="#505050" stroke-width="0.9"/>
<line x1="369.17" y1="179.20" x2="369.17" y2="177.60" stroke="#505050" stroke-width="0.9"/>
<line x1="369.17" y1="11.10" x2="369.17" y2="12.70" stroke="#505050" stroke-width="0.9"/>
<line x1="376.17" y1="179.20" x2="376.17" y2="177.60" stroke="#505050" stroke-width="0.9"/>
<line x1="376.17" y1="11.10" x2="376.17" y2="12.70" stroke="#505050" stroke-width="0.9"/>
<line x1="381.88" y1="179.20" x2="381.88" y2="177.60" stroke="#505050" stroke-width="0.9"/>
<line x1="381.88" y1="11.10" x2="381.88" y2="12.70" stroke="#505050" stroke-width="0.9"/>
<line x1="386.72" y1="179.20" x2="386.72" y2="177.60" stroke="#505050" stroke-width="0.9"/>
<line x1="386.72" y1="11.10" x2="386.72" y2="12.70" stroke="#505050" stroke-width="0.9"/>
<line x1="390.90" y1="179.20" x2="390.90" y2="177.60" stroke="#505050" stroke-width="0.9"/>
<line x1="390.90" y1="11.10" x2="390.90" y2="12.70" stroke="#505050" stroke-width="0.9"/>
<line x1="394.60" y1="179.20" x2="394.60" y2="177.60" stroke="#505050" stroke-width="0.9"/>
<line x1="394.60" y1="11.10" x2="394.60" y2="12.70" stroke="#505050" stroke-width="0.9"/>
<line x1="419.63" y1="179.20" x2="419.63" y2="177.60" stroke="#505050" stroke-width="0.9"/>
<line x1="419.63" y1="11.10" x2="419.63" y2="12.70" stroke="#505050" stroke-width="0.9"/>
<line x1="432.35" y1="179.20" x2="432.35" y2="177.60" stroke="#505050" stroke-width="0.9"/>
<line x1="432.35" y1="11.10" x2="432.35" y2="12.70" stroke="#505050" stroke-width="0.9"/>
<line x1="441.37" y1="179.20" x2="441.37" y2="177.60" stroke="#505050" stroke-width="0.9"/>
<line x1="441.37" y1="11.10" x2="441.37" y2="12.70" stroke="#505050" stroke-width="0.9"/>
<line x1="448.37" y1="179.20" x2="448.37" y2="177.60" stroke="#505050" stroke-width="0.9"/>
<line x1="448.37" y1="11.10" x2="448.37" y2="12.70" stroke="#505050" stroke-width="0.9"/>
<line x1="454.08" y1="179.20" x2="454.08" y2="177.60" stroke="#505050" stroke-width="0.9"/>
<line x1="454.08" y1="11.10" x2="454.08" y2="12.70" stroke="#505050" stroke-width="0.9"/>
<line x1="458.92" y1="179.20" x2="458.92" y2="177.60" stroke="#505050" stroke-width="0.9"/>
<line x1="458.92" y1="11.10" x2="458.92" y2="12.70" stroke="#505050" stroke-width="0.9"/>
<line x1="463.10" y1="179.20" x2="463.10" y2="177.60" stroke="#505050" stroke-width="0.9"/>
<line x1="463.10" y1="11.10" x2="463.10" y2="12.70" stroke="#505050" stroke-width="0.9"/>
<line x1="466.80" y1="179.20" x2="466.80" y2="177.60" stroke="#505050" stroke-width="0.9"/>
<line x1="466.80" y1="11.10" x2="466.80" y2="12.70" stroke="#505050" stroke-width="0.9"/>
<line x1="491.83" y1="179.20" x2="491.83" y2="177.60" stroke="#505050" stroke-width="0.9"/>
<line x1="491.83" y1="11.10" x2="491.83" y2="12.70" stroke="#505050" stroke-width="0.9"/>
<line x1="504.55" y1="179.20" x2="504.55" y2="177.60" stroke="#505050" stroke-width="0.9"/>
<line x1="504.55" y1="11.10" x2="504.55" y2="12.70" stroke="#505050" stroke-width="0.9"/>
<line x1="513.57" y1="179.20" x2="513.57" y2="177.60" stroke="#505050" stroke-width="0.9"/>
<line x1="513.57" y1="11.10" x2="513.57" y2="12.70" stroke="#505050" stroke-width="0.9"/>
<line x1="520.57" y1="179.20" x2="520.57" y2="177.60" stroke="#505050" stroke-width="0.9"/>
<line x1="520.57" y1="11.10" x2="520.57" y2="12.70" stroke="#505050" stroke-width="0.9"/>
<line x1="325.80" y1="179.20" x2="329.00" y2="179.20" stroke="#505050" stroke-width="0.9"/>
<line x1="520.10" y1="179.20" x2="516.90" y2="179.20" stroke="#505050" stroke-width="0.9"/>
<line x1="325.80" y1="128.20" x2="329.00" y2="128.20" stroke="#505050" stroke-width="0.9"/>
<line x1="520.10" y1="128.20" x2="516.90" y2="128.20" stroke="#505050" stroke-width="0.9"/>
<line x1="325.80" y1="77.20" x2="329.00" y2="77.20" stroke="#505050" stroke-width="0.9"/>
<line x1="520.10" y1="77.20" x2="516.90" y2="77.20" stroke="#505050" stroke-width="0.9"/>
<line x1="325.80" y1="26.20" x2="329.00" y2="26.20" stroke="#505050" stroke-width="0.9"/>
<line x1="520.10" y1="26.20" x2="516.90" y2="26.20" stroke="#505050" stroke-width="0.9"/>
<line x1="325.80" y1="163.85" x2="327.40" y2="163.85" stroke="#505050" stroke-width="0.9"/>
<line x1="520.10" y1="163.85" x2="518.50" y2="163.85" stroke="#505050" stroke-width="0.9"/>
<line x1="325.80" y1="154.87" x2="327.40" y2="154.87" stroke="#505050" stroke-width="0.9"/>
<line x1="520.10" y1="154.87" x2="518.50" y2="154.87" stroke="#505050" stroke-width="0.9"/>
<line x1="325.80" y1="148.49" x2="327.40" y2="148.49" stroke="#505050" stroke-width="0.9"/>
<line x1="520.10" y1="148.49" x2="518.50" y2="148.49" stroke="#505050" stroke-width="0.9"/>
<line x1="325.80" y1="143.55" x2="327.40" y2="143.55" stroke="#505050" stroke-width="0.9"/>
<line x1="520.10" y1="143.55" x2="518.50" y2="143.55" stroke="#505050" stroke-width="0.9"/>
<line x1="325.80" y1="139.51" x2="327.40" y2="139.51" stroke="#505050" stroke-width="0.9"/>
<line x1="520.10" y1="139.51" x2="518.50" y2="139.51" stroke="#505050" stroke-width="0.9"/>
<line x1="325.80" y1="136.10" x2="327.40" y2="136.10" stroke="#505050" stroke-width="0.9"/>
<line x1="520.10" y1="136.10" x2="518.50" y2="136.10" stroke="#505050" stroke-width="0.9"/>
<line x1="325.80" y1="133.14" x2="327.40" y2="133.14" stroke="#505050" stroke-width="0.9"/>
<line x1="520.10" y1="133.14" x2="518.50" y2="133.14" stroke="#505050" stroke-width="0.9"/>
<line x1="325.80" y1="130.53" x2="327.40" y2="130.53" stroke="#505050" stroke-width="0.9"/>
<line x1="520.10" y1="130.53" x2="518.50" y2="130.53" stroke="#505050" stroke-width="0.9"/>
<line x1="325.80" y1="112.85" x2="327.40" y2="112.85" stroke="#505050" stroke-width="0.9"/>
<line x1="520.10" y1="112.85" x2="518.50" y2="112.85" stroke="#505050" stroke-width="0.9"/>
<line x1="325.80" y1="103.87" x2="327.40" y2="103.87" stroke="#505050" stroke-width="0.9"/>
<line x1="520.10" y1="103.87" x2="518.50" y2="103.87" stroke="#505050" stroke-width="0.9"/>
<line x1="325.80" y1="97.49" x2="327.40" y2="97.49" stroke="#505050" stroke-width="0.9"/>
<line x1="520.10" y1="97.49" x2="518.50" y2="97.49" stroke="#505050" stroke-width="0.9"/>
<line x1="325.80" y1="92.55" x2="327.40" y2="92.55" stroke="#505050" stroke-width="0.9"/>
<line x1="520.10" y1="92.55" x2="518.50" y2="92.55" stroke="#505050" stroke-width="0.9"/>
<line x1="325.80" y1="88.51" x2="327.40" y2="88.51" stroke="#505050" stroke-width="0.9"/>
<line x1="520.10" y1="88.51" x2="518.50" y2="88.51" stroke="#505050" stroke-width="0.9"/>
<line x1="325.80" y1="85.10" x2="327.40" y2="85.10" stroke="#505050" stroke-width="0.9"/>
<line x1="520.10" y1="85.10" x2="518.50" y2="85.10" stroke="#505050" stroke-width="0.9"/>
<line x1="325.80" y1="82.14" x2="327.40" y2="82.14" stroke="#505050" stroke-width="0.9"/>
<line x1="520.10" y1="82.14" x2="518.50" y2="82.14" stroke="#505050" stroke-width="0.9"/>
<line x1="325.80" y1="79.53" x2="327.40" y2="79.53" stroke="#505050" stroke-width="0.9"/>
<line x1="520.10" y1="79.53" x2="518.50" y2="79.53" stroke="#505050" stroke-width="0.9"/>
<line x1="325.80" y1="61.85" x2="327.40" y2="61.85" stroke="#505050" stroke-width="0.9"/>
<line x1="520.10" y1="61.85" x2="518.50" y2="61.85" stroke="#505050" stroke-width="0.9"/>
<line x1="325.80" y1="52.87" x2="327.40" y2="52.87" stroke="#505050" stroke-width="0.9"/>
<line x1="520.10" y1="52.87" x2="518.50" y2="52.87" stroke="#505050" stroke-width="0.9"/>
<line x1="325.80" y1="46.49" x2="327.40" y2="46.49" stroke="#505050" stroke-width="0.9"/>
<line x1="520.10" y1="46.49" x2="518.50" y2="46.49" stroke="#505050" stroke-width="0.9"/>
<line x1="325.80" y1="41.55" x2="327.40" y2="41.55" stroke="#505050" stroke-width="0.9"/>
<line x1="520.10" y1="41.55" x2="518.50" y2="41.55" stroke="#505050" stroke-width="0.9"/>
<line x1="325.80" y1="37.51" x2="327.40" y2="37.51" stroke="#505050" stroke-width="0.9"/>
<line x1="520.10" y1="37.51" x2="518.50" y2="37.51" stroke="#505050" stroke-width="0.9"/>
<line x1="325.80" y1="34.10" x2="327.40" y2="34.10" stroke="#505050" stroke-width="0.9"/>
<line x1="520.10" y1="34.10" x2="518.50" y2="34.10" stroke="#505050" stroke-width="0.9"/>
<line x1="325.80" y1="31.14" x2="327.40" y2="31.14" stroke="#505050" stroke-width="0.9"/>
<line x1="520.10" y1="31.14" x2="518.50" y2="31.14" stroke="#505050" stroke-width="0.9"/>
<line x1="325.80" y1="28.53" x2="327.40" y2="28.53" stroke="#505050" stroke-width="0.9"/>
<line x1="520.10" y1="28.53" x2="518.50" y2="28.53" stroke="#505050" stroke-width="0.9"/>
<line x1="325.80" y1="10.85" x2="327.40" y2="10.85" stroke="#505050" stroke-width="0.9"/>
<line x1="520.10" y1="10.85" x2="518.50" y2="10.85" stroke="#505050" stroke-width="0.9"/>
<text x="318.00" y="186.30" font-size="14" text-anchor="end">10<tspan dx="2.4" dy="-7.6" font-size="11.5">1</tspan></text>
<text x="318.00" y="135.30" font-size="14" text-anchor="end">10<tspan dx="2.4" dy="-7.6" font-size="11.5">2</tspan></text>
<text x="318.00" y="84.30" font-size="14" text-anchor="end">10<tspan dx="2.4" dy="-7.6" font-size="11.5">3</tspan></text>
<text x="318.00" y="33.30" font-size="14" text-anchor="end">10<tspan dx="2.4" dy="-7.6" font-size="11.5">4</tspan></text>
<text x="324.20" y="196.50" font-size="14" text-anchor="middle" >1</text>
<text x="396.40" y="196.50" font-size="14" text-anchor="middle" >10</text>
<text x="468.60" y="196.50" font-size="14" text-anchor="middle" >100</text>
<text x="393.20" y="214.50" font-size="14" text-anchor="start" >Δt (ps)</text>
<text transform="translate(278.3,123) rotate(-90)" font-size="17">τ<tspan dx="-0.5" dy="4" font-size="11.5">s</tspan><tspan dy="-4" dx="5.5" font-size="14.2">(ps)</tspan></text>
<path d="M347.43,43.21 L369.17,66.24 L397.90,83.42 L419.63,87.93 L441.37,89.69 L475.82,91.10 L513.57,91.90" fill="none" stroke="#2a80e8" stroke-width="1.45" stroke-dasharray="5,2.5" stroke-linecap="butt" stroke-linejoin="round" />
<path d="M347.43,48.22 L369.17,77.72 L397.90,109.37 L419.63,122.73 L441.37,130.78 L475.82,134.28 L513.57,135.79" fill="none" stroke="#2a80e8" stroke-width="1.45" stroke-dasharray="5,2.5" stroke-linecap="butt" stroke-linejoin="round" />
<path d="M347.43,30.79 L369.17,60.98 L397.90,100.20 L419.63,125.69 L441.37,140.27 L475.82,140.27 L513.57,139.51" fill="none" stroke="#2a80e8" stroke-width="1.45" stroke-dasharray="5,2.5" stroke-linecap="butt" stroke-linejoin="round" />
<path d="M347.43,71.80 L369.17,88.00 L397.90,97.49 L419.63,99.64 L441.37,100.52 L475.82,101.42 L513.57,101.89" fill="none" stroke="#1fae3a" stroke-width="1.45" stroke-dasharray="2,2.2" stroke-linecap="butt" stroke-linejoin="round" />
<path d="M347.43,79.71 L369.17,96.10 L397.90,103.94 L419.63,108.17 L441.37,108.63 L475.82,110.04 L513.57,110.54" fill="none" stroke="#1fae3a" stroke-width="1.45" stroke-dasharray="2,2.2" stroke-linecap="butt" stroke-linejoin="round" />
<path d="M347.43,82.14 L369.17,111.56 L397.90,139.51 L419.63,151.58 L441.37,156.00 L475.82,159.81 L513.57,160.75" fill="none" stroke="#1fae3a" stroke-width="1.45" stroke-dasharray="2,2.2" stroke-linecap="butt" stroke-linejoin="round" />
<path d="M347.43,84.91 L369.17,103.21 L397.90,115.18 L419.63,118.35 L441.37,119.97 L475.82,120.75 L513.57,120.75" fill="none" stroke="#ff8424" stroke-width="1.45" stroke-linecap="butt" stroke-linejoin="round" />
<path d="M347.43,91.01 L369.17,101.16 L397.90,107.47 L419.63,108.17 L441.37,109.46 L475.82,110.04 L513.57,110.54" fill="none" stroke="#ff8424" stroke-width="1.45" stroke-linecap="butt" stroke-linejoin="round" />
<path d="M347.43,102.93 L369.17,116.71 L397.90,124.72 L419.63,126.29 L441.37,127.55 L475.82,127.55 L513.57,127.55" fill="none" stroke="#ff8424" stroke-width="1.45" stroke-linecap="butt" stroke-linejoin="round" />
<circle cx="347.43" cy="43.21" r="2.7" fill="#2a80e8"/>
<circle cx="369.17" cy="66.24" r="2.7" fill="#2a80e8"/>
<circle cx="397.90" cy="83.42" r="2.7" fill="#2a80e8"/>
<circle cx="419.63" cy="87.93" r="2.7" fill="#2a80e8"/>
<circle cx="441.37" cy="89.69" r="2.7" fill="#2a80e8"/>
<circle cx="475.82" cy="91.10" r="2.7" fill="#2a80e8"/>
<circle cx="513.57" cy="91.90" r="2.7" fill="#2a80e8"/>
<rect x="344.63" y="45.62" width="5.6" height="5.2" fill="none" stroke="#2a80e8" stroke-width="1.5"/>
<rect x="346.03" y="46.92" width="2.8" height="2.6" fill="#2a80e8" fill-opacity="0.45"/>
<rect x="366.37" y="75.12" width="5.6" height="5.2" fill="none" stroke="#2a80e8" stroke-width="1.5"/>
<rect x="367.77" y="76.42" width="2.8" height="2.6" fill="#2a80e8" fill-opacity="0.45"/>
<rect x="395.10" y="106.77" width="5.6" height="5.2" fill="none" stroke="#2a80e8" stroke-width="1.5"/>
<rect x="396.50" y="108.07" width="2.8" height="2.6" fill="#2a80e8" fill-opacity="0.45"/>
<rect x="416.83" y="120.13" width="5.6" height="5.2" fill="none" stroke="#2a80e8" stroke-width="1.5"/>
<rect x="418.23" y="121.43" width="2.8" height="2.6" fill="#2a80e8" fill-opacity="0.45"/>
<rect x="438.57" y="128.18" width="5.6" height="5.2" fill="none" stroke="#2a80e8" stroke-width="1.5"/>
<rect x="439.97" y="129.48" width="2.8" height="2.6" fill="#2a80e8" fill-opacity="0.45"/>
<rect x="473.02" y="131.68" width="5.6" height="5.2" fill="none" stroke="#2a80e8" stroke-width="1.5"/>
<rect x="474.42" y="132.98" width="2.8" height="2.6" fill="#2a80e8" fill-opacity="0.45"/>
<rect x="510.77" y="133.19" width="5.6" height="5.2" fill="none" stroke="#2a80e8" stroke-width="1.5"/>
<rect x="512.17" y="134.49" width="2.8" height="2.6" fill="#2a80e8" fill-opacity="0.45"/>
<path d="M343.83,28.19 L351.03,28.19 L347.43,33.59 Z" fill="none" stroke="#2a80e8" stroke-width="1.5" stroke-linejoin="miter"/>
<path d="M345.23,28.89 L349.63,28.89 L347.43,32.39 Z" fill="#2a80e8" fill-opacity="0.7"/>
<path d="M365.57,58.38 L372.77,58.38 L369.17,63.78 Z" fill="none" stroke="#2a80e8" stroke-width="1.5" stroke-linejoin="miter"/>
<path d="M366.97,59.08 L371.37,59.08 L369.17,62.58 Z" fill="#2a80e8" fill-opacity="0.7"/>
<path d="M394.30,97.60 L401.50,97.60 L397.90,103.00 Z" fill="none" stroke="#2a80e8" stroke-width="1.5" stroke-linejoin="miter"/>
<path d="M395.70,98.30 L400.10,98.30 L397.90,101.80 Z" fill="#2a80e8" fill-opacity="0.7"/>
<path d="M416.03,123.09 L423.23,123.09 L419.63,128.49 Z" fill="none" stroke="#2a80e8" stroke-width="1.5" stroke-linejoin="miter"/>
<path d="M417.43,123.79 L421.83,123.79 L419.63,127.29 Z" fill="#2a80e8" fill-opacity="0.7"/>
<path d="M437.77,137.67 L444.97,137.67 L441.37,143.07 Z" fill="none" stroke="#2a80e8" stroke-width="1.5" stroke-linejoin="miter"/>
<path d="M439.17,138.37 L443.57,138.37 L441.37,141.87 Z" fill="#2a80e8" fill-opacity="0.7"/>
<path d="M472.22,137.67 L479.42,137.67 L475.82,143.07 Z" fill="none" stroke="#2a80e8" stroke-width="1.5" stroke-linejoin="miter"/>
<path d="M473.62,138.37 L478.02,138.37 L475.82,141.87 Z" fill="#2a80e8" fill-opacity="0.7"/>
<path d="M509.97,136.91 L517.17,136.91 L513.57,142.31 Z" fill="none" stroke="#2a80e8" stroke-width="1.5" stroke-linejoin="miter"/>
<path d="M511.37,137.61 L515.77,137.61 L513.57,141.11 Z" fill="#2a80e8" fill-opacity="0.7"/>
<circle cx="347.43" cy="71.80" r="2.7" fill="#1fae3a"/>
<circle cx="369.17" cy="88.00" r="2.7" fill="#1fae3a"/>
<circle cx="397.90" cy="97.49" r="2.7" fill="#1fae3a"/>
<circle cx="419.63" cy="99.64" r="2.7" fill="#1fae3a"/>
<circle cx="441.37" cy="100.52" r="2.7" fill="#1fae3a"/>
<circle cx="475.82" cy="101.42" r="2.7" fill="#1fae3a"/>
<circle cx="513.57" cy="101.89" r="2.7" fill="#1fae3a"/>
<rect x="344.63" y="77.11" width="5.6" height="5.2" fill="none" stroke="#1fae3a" stroke-width="1.5"/>
<rect x="346.03" y="78.41" width="2.8" height="2.6" fill="#1fae3a" fill-opacity="0.45"/>
<rect x="366.37" y="93.50" width="5.6" height="5.2" fill="none" stroke="#1fae3a" stroke-width="1.5"/>
<rect x="367.77" y="94.80" width="2.8" height="2.6" fill="#1fae3a" fill-opacity="0.45"/>
<rect x="395.10" y="101.34" width="5.6" height="5.2" fill="none" stroke="#1fae3a" stroke-width="1.5"/>
<rect x="396.50" y="102.64" width="2.8" height="2.6" fill="#1fae3a" fill-opacity="0.45"/>
<rect x="416.83" y="105.57" width="5.6" height="5.2" fill="none" stroke="#1fae3a" stroke-width="1.5"/>
<rect x="418.23" y="106.87" width="2.8" height="2.6" fill="#1fae3a" fill-opacity="0.45"/>
<rect x="438.57" y="106.03" width="5.6" height="5.2" fill="none" stroke="#1fae3a" stroke-width="1.5"/>
<rect x="439.97" y="107.33" width="2.8" height="2.6" fill="#1fae3a" fill-opacity="0.45"/>
<rect x="473.02" y="107.44" width="5.6" height="5.2" fill="none" stroke="#1fae3a" stroke-width="1.5"/>
<rect x="474.42" y="108.74" width="2.8" height="2.6" fill="#1fae3a" fill-opacity="0.45"/>
<rect x="510.77" y="107.94" width="5.6" height="5.2" fill="none" stroke="#1fae3a" stroke-width="1.5"/>
<rect x="512.17" y="109.24" width="2.8" height="2.6" fill="#1fae3a" fill-opacity="0.45"/>
<path d="M365.57,108.96 L372.77,108.96 L369.17,114.36 Z" fill="none" stroke="#1fae3a" stroke-width="1.5" stroke-linejoin="miter"/>
<path d="M366.97,109.66 L371.37,109.66 L369.17,113.16 Z" fill="#1fae3a" fill-opacity="0.7"/>
<path d="M394.30,136.91 L401.50,136.91 L397.90,142.31 Z" fill="none" stroke="#1fae3a" stroke-width="1.5" stroke-linejoin="miter"/>
<path d="M395.70,137.61 L400.10,137.61 L397.90,141.11 Z" fill="#1fae3a" fill-opacity="0.7"/>
<path d="M416.03,148.98 L423.23,148.98 L419.63,154.38 Z" fill="none" stroke="#1fae3a" stroke-width="1.5" stroke-linejoin="miter"/>
<path d="M417.43,149.68 L421.83,149.68 L419.63,153.18 Z" fill="#1fae3a" fill-opacity="0.7"/>
<path d="M437.77,153.40 L444.97,153.40 L441.37,158.80 Z" fill="none" stroke="#1fae3a" stroke-width="1.5" stroke-linejoin="miter"/>
<path d="M439.17,154.10 L443.57,154.10 L441.37,157.60 Z" fill="#1fae3a" fill-opacity="0.7"/>
<path d="M472.22,157.21 L479.42,157.21 L475.82,162.61 Z" fill="none" stroke="#1fae3a" stroke-width="1.5" stroke-linejoin="miter"/>
<path d="M473.62,157.91 L478.02,157.91 L475.82,161.41 Z" fill="#1fae3a" fill-opacity="0.7"/>
<path d="M509.97,158.15 L517.17,158.15 L513.57,163.55 Z" fill="none" stroke="#1fae3a" stroke-width="1.5" stroke-linejoin="miter"/>
<path d="M511.37,158.85 L515.77,158.85 L513.57,162.35 Z" fill="#1fae3a" fill-opacity="0.7"/>
<circle cx="347.43" cy="84.91" r="2.7" fill="#ff8424"/>
<circle cx="369.17" cy="103.21" r="2.7" fill="#ff8424"/>
<circle cx="397.90" cy="115.18" r="2.7" fill="#ff8424"/>
<circle cx="419.63" cy="118.35" r="2.7" fill="#ff8424"/>
<circle cx="441.37" cy="119.97" r="2.7" fill="#ff8424"/>
<circle cx="475.82" cy="120.75" r="2.7" fill="#ff8424"/>
<circle cx="513.57" cy="120.75" r="2.7" fill="#ff8424"/>
<rect x="344.63" y="88.41" width="5.6" height="5.2" fill="none" stroke="#ff8424" stroke-width="1.5"/>
<rect x="346.03" y="89.71" width="2.8" height="2.6" fill="#ff8424" fill-opacity="0.45"/>
<rect x="366.37" y="98.56" width="5.6" height="5.2" fill="none" stroke="#ff8424" stroke-width="1.5"/>
<rect x="367.77" y="99.86" width="2.8" height="2.6" fill="#ff8424" fill-opacity="0.45"/>
<rect x="395.10" y="104.87" width="5.6" height="5.2" fill="none" stroke="#ff8424" stroke-width="1.5"/>
<rect x="396.50" y="106.17" width="2.8" height="2.6" fill="#ff8424" fill-opacity="0.45"/>
<rect x="416.83" y="105.57" width="5.6" height="5.2" fill="none" stroke="#ff8424" stroke-width="1.5"/>
<rect x="418.23" y="106.87" width="2.8" height="2.6" fill="#ff8424" fill-opacity="0.45"/>
<rect x="438.57" y="106.86" width="5.6" height="5.2" fill="none" stroke="#ff8424" stroke-width="1.5"/>
<rect x="439.97" y="108.16" width="2.8" height="2.6" fill="#ff8424" fill-opacity="0.45"/>
<rect x="473.02" y="107.44" width="5.6" height="5.2" fill="none" stroke="#ff8424" stroke-width="1.5"/>
<rect x="474.42" y="108.74" width="2.8" height="2.6" fill="#ff8424" fill-opacity="0.45"/>
<rect x="510.77" y="107.94" width="5.6" height="5.2" fill="none" stroke="#ff8424" stroke-width="1.5"/>
<rect x="512.17" y="109.24" width="2.8" height="2.6" fill="#ff8424" fill-opacity="0.45"/>
<path d="M343.83,100.33 L351.03,100.33 L347.43,105.73 Z" fill="none" stroke="#ff8424" stroke-width="1.5" stroke-linejoin="miter"/>
<path d="M345.23,101.03 L349.63,101.03 L347.43,104.53 Z" fill="#ff8424" fill-opacity="0.7"/>
<path d="M365.57,114.11 L372.77,114.11 L369.17,119.51 Z" fill="none" stroke="#ff8424" stroke-width="1.5" stroke-linejoin="miter"/>
<path d="M366.97,114.81 L371.37,114.81 L369.17,118.31 Z" fill="#ff8424" fill-opacity="0.7"/>
<path d="M394.30,122.12 L401.50,122.12 L397.90,127.52 Z" fill="none" stroke="#ff8424" stroke-width="1.5" stroke-linejoin="miter"/>
<path d="M395.70,122.82 L400.10,122.82 L397.90,126.32 Z" fill="#ff8424" fill-opacity="0.7"/>
<path d="M416.03,123.69 L423.23,123.69 L419.63,129.09 Z" fill="none" stroke="#ff8424" stroke-width="1.5" stroke-linejoin="miter"/>
<path d="M417.43,124.39 L421.83,124.39 L419.63,127.89 Z" fill="#ff8424" fill-opacity="0.7"/>
<path d="M437.77,124.95 L444.97,124.95 L441.37,130.35 Z" fill="none" stroke="#ff8424" stroke-width="1.5" stroke-linejoin="miter"/>
<path d="M439.17,125.65 L443.57,125.65 L441.37,129.15 Z" fill="#ff8424" fill-opacity="0.7"/>
<path d="M472.22,124.95 L479.42,124.95 L475.82,130.35 Z" fill="none" stroke="#ff8424" stroke-width="1.5" stroke-linejoin="miter"/>
<path d="M473.62,125.65 L478.02,125.65 L475.82,129.15 Z" fill="#ff8424" fill-opacity="0.7"/>
<path d="M509.97,124.95 L517.17,124.95 L513.57,130.35 Z" fill="none" stroke="#ff8424" stroke-width="1.5" stroke-linejoin="miter"/>
<path d="M511.37,125.65 L515.77,125.65 L513.57,129.15 Z" fill="#ff8424" fill-opacity="0.7"/>
<text x="345.20" y="163.00" font-size="13.5" text-anchor="start" >(<tspan font-style="italic">b</tspan>)</text>
<text x="391.3" y="41.10" font-size="13">2×10<tspan dx="2.5" dy="-6" font-size="9.5">10</tspan><tspan dx="4.5" dy="6">cm</tspan><tspan dx="1.5" dy="-6" font-size="9.5">-2</tspan></text>
<path d="M473,35.60 L505.7,35.60" fill="none" stroke="#2a80e8" stroke-width="1.6" stroke-dasharray="5,2.5" stroke-linecap="butt" stroke-linejoin="round" />
<circle cx="489.40" cy="35.60" r="2.7" fill="#2a80e8"/>
<text x="391.3" y="55.85" font-size="13">1×10<tspan dx="2.5" dy="-6" font-size="9.5">11</tspan><tspan dx="4.5" dy="6">cm</tspan><tspan dx="1.5" dy="-6" font-size="9.5">-2</tspan></text>
<path d="M473,50.35 L505.7,50.35" fill="none" stroke="#2a80e8" stroke-width="1.6" stroke-dasharray="5,2.5" stroke-linecap="butt" stroke-linejoin="round" />
<rect x="486.60" y="47.75" width="5.6" height="5.2" fill="none" stroke="#2a80e8" stroke-width="1.5"/>
<rect x="488.00" y="49.05" width="2.8" height="2.6" fill="#2a80e8" fill-opacity="0.45"/>
<text x="391.3" y="70.60" font-size="13">5×10<tspan dx="2.5" dy="-6" font-size="9.5">11</tspan><tspan dx="4.5" dy="6">cm</tspan><tspan dx="1.5" dy="-6" font-size="9.5">-2</tspan></text>
<path d="M473,65.10 L505.7,65.10" fill="none" stroke="#2a80e8" stroke-width="1.6" stroke-dasharray="5,2.5" stroke-linecap="butt" stroke-linejoin="round" />
<path d="M485.80,62.50 L493.00,62.50 L489.40,67.90 Z" fill="none" stroke="#2a80e8" stroke-width="1.5" stroke-linejoin="miter"/>
<path d="M487.20,63.20 L491.60,63.20 L489.40,66.70 Z" fill="#2a80e8" fill-opacity="0.7"/>
<rect x="55.70" y="233.50" width="194.30" height="167.80" fill="none" stroke="#505050" stroke-width="1.15"/>
<line x1="55.70" y1="401.30" x2="55.70" y2="398.10" stroke="#505050" stroke-width="0.9"/>
<line x1="55.70" y1="233.50" x2="55.70" y2="236.70" stroke="#505050" stroke-width="0.9"/>
<line x1="107.10" y1="401.30" x2="107.10" y2="398.10" stroke="#505050" stroke-width="0.9"/>
<line x1="107.10" y1="233.50" x2="107.10" y2="236.70" stroke="#505050" stroke-width="0.9"/>
<line x1="158.50" y1="401.30" x2="158.50" y2="398.10" stroke="#505050" stroke-width="0.9"/>
<line x1="158.50" y1="233.50" x2="158.50" y2="236.70" stroke="#505050" stroke-width="0.9"/>
<line x1="209.90" y1="401.30" x2="209.90" y2="398.10" stroke="#505050" stroke-width="0.9"/>
<line x1="209.90" y1="233.50" x2="209.90" y2="236.70" stroke="#505050" stroke-width="0.9"/>
<line x1="71.17" y1="401.30" x2="71.17" y2="399.70" stroke="#505050" stroke-width="0.9"/>
<line x1="71.17" y1="233.50" x2="71.17" y2="235.10" stroke="#505050" stroke-width="0.9"/>
<line x1="80.22" y1="401.30" x2="80.22" y2="399.70" stroke="#505050" stroke-width="0.9"/>
<line x1="80.22" y1="233.50" x2="80.22" y2="235.10" stroke="#505050" stroke-width="0.9"/>
<line x1="86.65" y1="401.30" x2="86.65" y2="399.70" stroke="#505050" stroke-width="0.9"/>
<line x1="86.65" y1="233.50" x2="86.65" y2="235.10" stroke="#505050" stroke-width="0.9"/>
<line x1="91.63" y1="401.30" x2="91.63" y2="399.70" stroke="#505050" stroke-width="0.9"/>
<line x1="91.63" y1="233.50" x2="91.63" y2="235.10" stroke="#505050" stroke-width="0.9"/>
<line x1="95.70" y1="401.30" x2="95.70" y2="399.70" stroke="#505050" stroke-width="0.9"/>
<line x1="95.70" y1="233.50" x2="95.70" y2="235.10" stroke="#505050" stroke-width="0.9"/>
<line x1="99.14" y1="401.30" x2="99.14" y2="399.70" stroke="#505050" stroke-width="0.9"/>
<line x1="99.14" y1="233.50" x2="99.14" y2="235.10" stroke="#505050" stroke-width="0.9"/>
<line x1="102.12" y1="401.30" x2="102.12" y2="399.70" stroke="#505050" stroke-width="0.9"/>
<line x1="102.12" y1="233.50" x2="102.12" y2="235.10" stroke="#505050" stroke-width="0.9"/>
<line x1="104.75" y1="401.30" x2="104.75" y2="399.70" stroke="#505050" stroke-width="0.9"/>
<line x1="104.75" y1="233.50" x2="104.75" y2="235.10" stroke="#505050" stroke-width="0.9"/>
<line x1="122.57" y1="401.30" x2="122.57" y2="399.70" stroke="#505050" stroke-width="0.9"/>
<line x1="122.57" y1="233.50" x2="122.57" y2="235.10" stroke="#505050" stroke-width="0.9"/>
<line x1="131.62" y1="401.30" x2="131.62" y2="399.70" stroke="#505050" stroke-width="0.9"/>
<line x1="131.62" y1="233.50" x2="131.62" y2="235.10" stroke="#505050" stroke-width="0.9"/>
<line x1="138.05" y1="401.30" x2="138.05" y2="399.70" stroke="#505050" stroke-width="0.9"/>
<line x1="138.05" y1="233.50" x2="138.05" y2="235.10" stroke="#505050" stroke-width="0.9"/>
<line x1="143.03" y1="401.30" x2="143.03" y2="399.70" stroke="#505050" stroke-width="0.9"/>
<line x1="143.03" y1="233.50" x2="143.03" y2="235.10" stroke="#505050" stroke-width="0.9"/>
<line x1="147.10" y1="401.30" x2="147.10" y2="399.70" stroke="#505050" stroke-width="0.9"/>
<line x1="147.10" y1="233.50" x2="147.10" y2="235.10" stroke="#505050" stroke-width="0.9"/>
<line x1="150.54" y1="401.30" x2="150.54" y2="399.70" stroke="#505050" stroke-width="0.9"/>
<line x1="150.54" y1="233.50" x2="150.54" y2="235.10" stroke="#505050" stroke-width="0.9"/>
<line x1="153.52" y1="401.30" x2="153.52" y2="399.70" stroke="#505050" stroke-width="0.9"/>
<line x1="153.52" y1="233.50" x2="153.52" y2="235.10" stroke="#505050" stroke-width="0.9"/>
<line x1="156.15" y1="401.30" x2="156.15" y2="399.70" stroke="#505050" stroke-width="0.9"/>
<line x1="156.15" y1="233.50" x2="156.15" y2="235.10" stroke="#505050" stroke-width="0.9"/>
<line x1="173.97" y1="401.30" x2="173.97" y2="399.70" stroke="#505050" stroke-width="0.9"/>
<line x1="173.97" y1="233.50" x2="173.97" y2="235.10" stroke="#505050" stroke-width="0.9"/>
<line x1="183.02" y1="401.30" x2="183.02" y2="399.70" stroke="#505050" stroke-width="0.9"/>
<line x1="183.02" y1="233.50" x2="183.02" y2="235.10" stroke="#505050" stroke-width="0.9"/>
<line x1="189.45" y1="401.30" x2="189.45" y2="399.70" stroke="#505050" stroke-width="0.9"/>
<line x1="189.45" y1="233.50" x2="189.45" y2="235.10" stroke="#505050" stroke-width="0.9"/>
<line x1="194.43" y1="401.30" x2="194.43" y2="399.70" stroke="#505050" stroke-width="0.9"/>
<line x1="194.43" y1="233.50" x2="194.43" y2="235.10" stroke="#505050" stroke-width="0.9"/>
<line x1="198.50" y1="401.30" x2="198.50" y2="399.70" stroke="#505050" stroke-width="0.9"/>
<line x1="198.50" y1="233.50" x2="198.50" y2="235.10" stroke="#505050" stroke-width="0.9"/>
<line x1="201.94" y1="401.30" x2="201.94" y2="399.70" stroke="#505050" stroke-width="0.9"/>
<line x1="201.94" y1="233.50" x2="201.94" y2="235.10" stroke="#505050" stroke-width="0.9"/>
<line x1="204.92" y1="401.30" x2="204.92" y2="399.70" stroke="#505050" stroke-width="0.9"/>
<line x1="204.92" y1="233.50" x2="204.92" y2="235.10" stroke="#505050" stroke-width="0.9"/>
<line x1="207.55" y1="401.30" x2="207.55" y2="399.70" stroke="#505050" stroke-width="0.9"/>
<line x1="207.55" y1="233.50" x2="207.55" y2="235.10" stroke="#505050" stroke-width="0.9"/>
<line x1="225.37" y1="401.30" x2="225.37" y2="399.70" stroke="#505050" stroke-width="0.9"/>
<line x1="225.37" y1="233.50" x2="225.37" y2="235.10" stroke="#505050" stroke-width="0.9"/>
<line x1="234.42" y1="401.30" x2="234.42" y2="399.70" stroke="#505050" stroke-width="0.9"/>
<line x1="234.42" y1="233.50" x2="234.42" y2="235.10" stroke="#505050" stroke-width="0.9"/>
<line x1="240.85" y1="401.30" x2="240.85" y2="399.70" stroke="#505050" stroke-width="0.9"/>
<line x1="240.85" y1="233.50" x2="240.85" y2="235.10" stroke="#505050" stroke-width="0.9"/>
<line x1="245.83" y1="401.30" x2="245.83" y2="399.70" stroke="#505050" stroke-width="0.9"/>
<line x1="245.83" y1="233.50" x2="245.83" y2="235.10" stroke="#505050" stroke-width="0.9"/>
<line x1="249.90" y1="401.30" x2="249.90" y2="399.70" stroke="#505050" stroke-width="0.9"/>
<line x1="249.90" y1="233.50" x2="249.90" y2="235.10" stroke="#505050" stroke-width="0.9"/>
<line x1="55.70" y1="357.50" x2="58.90" y2="357.50" stroke="#505050" stroke-width="0.9"/>
<line x1="250.00" y1="357.50" x2="246.80" y2="357.50" stroke="#505050" stroke-width="0.9"/>
<line x1="55.70" y1="295.50" x2="58.90" y2="295.50" stroke="#505050" stroke-width="0.9"/>
<line x1="250.00" y1="295.50" x2="246.80" y2="295.50" stroke="#505050" stroke-width="0.9"/>
<line x1="55.70" y1="233.50" x2="58.90" y2="233.50" stroke="#505050" stroke-width="0.9"/>
<line x1="250.00" y1="233.50" x2="246.80" y2="233.50" stroke="#505050" stroke-width="0.9"/>
<line x1="55.70" y1="400.84" x2="57.30" y2="400.84" stroke="#505050" stroke-width="0.9"/>
<line x1="250.00" y1="400.84" x2="248.40" y2="400.84" stroke="#505050" stroke-width="0.9"/>
<line x1="55.70" y1="389.92" x2="57.30" y2="389.92" stroke="#505050" stroke-width="0.9"/>
<line x1="250.00" y1="389.92" x2="248.40" y2="389.92" stroke="#505050" stroke-width="0.9"/>
<line x1="55.70" y1="382.17" x2="57.30" y2="382.17" stroke="#505050" stroke-width="0.9"/>
<line x1="250.00" y1="382.17" x2="248.40" y2="382.17" stroke="#505050" stroke-width="0.9"/>
<line x1="55.70" y1="376.16" x2="57.30" y2="376.16" stroke="#505050" stroke-width="0.9"/>
<line x1="250.00" y1="376.16" x2="248.40" y2="376.16" stroke="#505050" stroke-width="0.9"/>
<line x1="55.70" y1="371.25" x2="57.30" y2="371.25" stroke="#505050" stroke-width="0.9"/>
<line x1="250.00" y1="371.25" x2="248.40" y2="371.25" stroke="#505050" stroke-width="0.9"/>
<line x1="55.70" y1="367.10" x2="57.30" y2="367.10" stroke="#505050" stroke-width="0.9"/>
<line x1="250.00" y1="367.10" x2="248.40" y2="367.10" stroke="#505050" stroke-width="0.9"/>
<line x1="55.70" y1="363.51" x2="57.30" y2="363.51" stroke="#505050" stroke-width="0.9"/>
<line x1="250.00" y1="363.51" x2="248.40" y2="363.51" stroke="#505050" stroke-width="0.9"/>
<line x1="55.70" y1="360.34" x2="57.30" y2="360.34" stroke="#505050" stroke-width="0.9"/>
<line x1="250.00" y1="360.34" x2="248.40" y2="360.34" stroke="#505050" stroke-width="0.9"/>
<line x1="55.70" y1="338.84" x2="57.30" y2="338.84" stroke="#505050" stroke-width="0.9"/>
<line x1="250.00" y1="338.84" x2="248.40" y2="338.84" stroke="#505050" stroke-width="0.9"/>
<line x1="55.70" y1="327.92" x2="57.30" y2="327.92" stroke="#505050" stroke-width="0.9"/>
<line x1="250.00" y1="327.92" x2="248.40" y2="327.92" stroke="#505050" stroke-width="0.9"/>
<line x1="55.70" y1="320.17" x2="57.30" y2="320.17" stroke="#505050" stroke-width="0.9"/>
<line x1="250.00" y1="320.17" x2="248.40" y2="320.17" stroke="#505050" stroke-width="0.9"/>
<line x1="55.70" y1="314.16" x2="57.30" y2="314.16" stroke="#505050" stroke-width="0.9"/>
<line x1="250.00" y1="314.16" x2="248.40" y2="314.16" stroke="#505050" stroke-width="0.9"/>
<line x1="55.70" y1="309.25" x2="57.30" y2="309.25" stroke="#505050" stroke-width="0.9"/>
<line x1="250.00" y1="309.25" x2="248.40" y2="309.25" stroke="#505050" stroke-width="0.9"/>
<line x1="55.70" y1="305.10" x2="57.30" y2="305.10" stroke="#505050" stroke-width="0.9"/>
<line x1="250.00" y1="305.10" x2="248.40" y2="305.10" stroke="#505050" stroke-width="0.9"/>
<line x1="55.70" y1="301.51" x2="57.30" y2="301.51" stroke="#505050" stroke-width="0.9"/>
<line x1="250.00" y1="301.51" x2="248.40" y2="301.51" stroke="#505050" stroke-width="0.9"/>
<line x1="55.70" y1="298.34" x2="57.30" y2="298.34" stroke="#505050" stroke-width="0.9"/>
<line x1="250.00" y1="298.34" x2="248.40" y2="298.34" stroke="#505050" stroke-width="0.9"/>
<line x1="55.70" y1="276.84" x2="57.30" y2="276.84" stroke="#505050" stroke-width="0.9"/>
<line x1="250.00" y1="276.84" x2="248.40" y2="276.84" stroke="#505050" stroke-width="0.9"/>
<line x1="55.70" y1="265.92" x2="57.30" y2="265.92" stroke="#505050" stroke-width="0.9"/>
<line x1="250.00" y1="265.92" x2="248.40" y2="265.92" stroke="#505050" stroke-width="0.9"/>
<line x1="55.70" y1="258.17" x2="57.30" y2="258.17" stroke="#505050" stroke-width="0.9"/>
<line x1="250.00" y1="258.17" x2="248.40" y2="258.17" stroke="#505050" stroke-width="0.9"/>
<line x1="55.70" y1="252.16" x2="57.30" y2="252.16" stroke="#505050" stroke-width="0.9"/>
<line x1="250.00" y1="252.16" x2="248.40" y2="252.16" stroke="#505050" stroke-width="0.9"/>
<line x1="55.70" y1="247.25" x2="57.30" y2="247.25" stroke="#505050" stroke-width="0.9"/>
<line x1="250.00" y1="247.25" x2="248.40" y2="247.25" stroke="#505050" stroke-width="0.9"/>
<line x1="55.70" y1="243.10" x2="57.30" y2="243.10" stroke="#505050" stroke-width="0.9"/>
<line x1="250.00" y1="243.10" x2="248.40" y2="243.10" stroke="#505050" stroke-width="0.9"/>
<line x1="55.70" y1="239.51" x2="57.30" y2="239.51" stroke="#505050" stroke-width="0.9"/>
<line x1="250.00" y1="239.51" x2="248.40" y2="239.51" stroke="#505050" stroke-width="0.9"/>
<line x1="55.70" y1="236.34" x2="57.30" y2="236.34" stroke="#505050" stroke-width="0.9"/>
<line x1="250.00" y1="236.34" x2="248.40" y2="236.34" stroke="#505050" stroke-width="0.9"/>
<text x="47.70" y="364.20" font-size="14" text-anchor="end">10<tspan dx="2.4" dy="-7.4" font-size="11">3</tspan></text>
<text x="47.70" y="302.20" font-size="14" text-anchor="end">10<tspan dx="2.4" dy="-7.4" font-size="11">4</tspan></text>
<text x="47.70" y="240.20" font-size="14" text-anchor="end">10<tspan dx="2.4" dy="-7.4" font-size="11">5</tspan></text>
<text x="44.80" y="419.8" font-size="14">10<tspan dx="2.6" dy="-6.6" font-size="11">8</tspan></text>
<text x="96.20" y="419.8" font-size="14">10<tspan dx="2.6" dy="-6.6" font-size="11">9</tspan></text>
<text x="147.60" y="419.8" font-size="14">10<tspan dx="2.6" dy="-6.6" font-size="11">10</tspan></text>
<text x="199.00" y="419.8" font-size="14">10<tspan dx="2.6" dy="-6.6" font-size="11">11</tspan></text>
<text x="117.6" y="436.8" font-size="14">N<tspan dy="4.3" font-size="11">e</tspan><tspan dy="-4.3" dx="4.3">(cm</tspan><tspan dx="1.8" dy="-7.2" font-size="11">-2</tspan><tspan dx="1" dy="7.2">)</tspan></text>
<text transform="translate(13,346) rotate(-90)" font-size="17">τ<tspan dx="-0.5" dy="4" font-size="11.5">s</tspan><tspan dy="-4" dx="5.5" font-size="14.2">(ps)</tspan></text>
<path d="M55.70,390.00 C63.08,390.00 84.28,390.00 100.00,390.00 C115.72,390.00 135.28,390.32 150.00,390.00 C164.72,389.68 178.72,388.73 188.30,388.10 C197.88,387.47 201.12,386.68 207.50,386.20 C213.88,385.72 221.85,385.27 226.60,385.20 C231.35,385.13 232.80,385.15 236.00,385.80 C239.20,386.45 244.17,388.55 245.80,389.10" fill="none" stroke="#a03535" stroke-width="1.95" stroke-dasharray="6,2.2,1.8,2.2" stroke-linecap="butt" stroke-linejoin="round" />
<path d="M55.70,357.00 C59.75,357.05 71.78,356.77 80.00,357.30 C88.22,357.83 96.67,359.00 105.00,360.20 C113.33,361.40 122.50,362.87 130.00,364.50 C137.50,366.13 143.47,368.15 150.00,370.00 C156.53,371.85 162.82,374.02 169.20,375.60 C175.58,377.18 181.92,378.70 188.30,379.50 C194.68,380.30 201.12,379.92 207.50,380.40 C213.88,380.88 221.85,381.73 226.60,382.40 C231.35,383.07 232.80,383.28 236.00,384.40 C239.20,385.52 244.17,388.32 245.80,389.10" fill="none" stroke="#1aa8f0" stroke-width="1.95" stroke-linecap="butt" stroke-linejoin="round" />
<path d="M55.70,321.10 C58.08,321.35 65.70,322.15 70.00,322.60 C74.30,323.05 77.67,323.12 81.50,323.80 C85.33,324.48 89.17,325.45 93.00,326.70 C96.83,327.95 100.67,329.68 104.50,331.30 C108.33,332.92 111.75,334.40 116.00,336.40 C120.25,338.40 124.33,340.15 130.00,343.30 C135.67,346.45 143.47,351.82 150.00,355.30 C156.53,358.78 162.82,361.77 169.20,364.20 C175.58,366.63 181.92,368.32 188.30,369.90 C194.68,371.48 201.12,372.27 207.50,373.70 C213.88,375.13 221.85,376.92 226.60,378.50 C231.35,380.08 232.80,381.40 236.00,383.20 C239.20,385.00 244.17,388.28 245.80,389.30" fill="none" stroke="#555555" stroke-width="1.95" stroke-dasharray="6.3,2.6,1.8,2.7" stroke-linecap="butt" stroke-linejoin="round" />
<path d="M55.70,285.00 C59.33,286.75 70.12,291.38 77.50,295.50 C84.88,299.62 94.37,306.12 100.00,309.70 C105.63,313.28 107.55,314.65 111.30,317.00 C115.05,319.35 118.75,321.35 122.50,323.80 C126.25,326.25 130.05,329.23 133.80,331.70 C137.55,334.17 140.63,336.22 145.00,338.60 C149.37,340.98 155.00,343.87 160.00,346.00 C165.00,348.13 167.33,349.15 175.00,351.40 C182.67,353.65 197.17,356.90 206.00,359.50 C214.83,362.10 223.17,365.55 228.00,367.00 C232.83,368.45 232.03,368.45 235.00,368.20 C237.97,367.95 244.00,365.95 245.80,365.50" fill="none" stroke="#ff8424" stroke-width="1.95" stroke-dasharray="6.3,2,1.8,2.2,1.8,2.4" stroke-linecap="butt" stroke-linejoin="round" />
<path d="M55.70,271.50 C59.33,273.80 70.12,279.87 77.50,285.30 C84.88,290.73 94.37,299.75 100.00,304.10 C105.63,308.45 107.55,309.05 111.30,311.40 C115.05,313.75 118.75,315.95 122.50,318.20 C126.25,320.45 129.22,322.93 133.80,324.90 C138.38,326.87 143.97,328.28 150.00,330.00 C156.03,331.72 163.67,333.80 170.00,335.20 C176.33,336.60 182.00,337.07 188.00,338.40 C194.00,339.73 200.58,341.77 206.00,343.20 C211.42,344.63 216.00,346.85 220.50,347.00 C225.00,347.15 228.78,346.68 233.00,344.10 C237.22,341.52 243.67,333.60 245.80,331.50" fill="none" stroke="#1fae3a" stroke-width="1.95" stroke-dasharray="2,1.87" stroke-linecap="butt" stroke-linejoin="round" />
<path d="M55.70,261.40 C59.33,264.20 70.12,272.40 77.50,278.20 C84.88,284.00 92.50,291.42 100.00,296.20 C107.50,300.98 114.17,304.08 122.50,306.90 C130.83,309.72 142.08,311.60 150.00,313.10 C157.92,314.60 163.67,315.05 170.00,315.90 C176.33,316.75 182.00,317.18 188.00,318.20 C194.00,319.22 201.50,321.33 206.00,322.00 C210.50,322.67 212.00,322.70 215.00,322.20 C218.00,321.70 221.00,320.45 224.00,319.00 C227.00,317.55 230.33,315.33 233.00,313.50 C235.67,311.67 237.87,310.17 240.00,308.00 C242.13,305.83 244.83,301.75 245.80,300.50" fill="none" stroke="#1c46e2" stroke-width="1.95" stroke-dasharray="5.2,1.9" stroke-linecap="butt" stroke-linejoin="round" />
<path d="M55.70,246.80 C59.33,251.23 71.78,266.37 77.50,273.40 C83.22,280.43 86.25,284.73 90.00,289.00 C93.75,293.27 96.45,295.45 100.00,299.00 C103.55,302.55 107.55,306.43 111.30,310.30 C115.05,314.17 118.75,318.72 122.50,322.20 C126.25,325.68 130.22,328.63 133.80,331.20 C137.38,333.77 140.80,335.77 144.00,337.60 C147.20,339.43 148.80,340.25 153.00,342.20 C157.20,344.15 163.32,347.23 169.20,349.30 C175.08,351.37 181.92,352.92 188.30,354.60 C194.68,356.28 201.80,357.80 207.50,359.40 C213.20,361.00 218.08,363.20 222.50,364.20 C226.92,365.20 230.12,365.88 234.00,365.40 C237.88,364.92 243.83,361.98 245.80,361.30" fill="none" stroke="#ff66ff" stroke-width="1.95" stroke-linecap="butt" stroke-linejoin="round" />
<path d="M174.00,309.40 C176.00,312.48 181.67,321.38 186.00,327.90 C190.33,334.42 194.67,341.90 200.00,348.50 C205.33,355.10 212.00,361.22 218.00,367.50 C224.00,373.78 233.00,383.08 236.00,386.20" fill="none" stroke="#444" stroke-width="1.15" stroke-dasharray="4,2.5" stroke-linecap="butt" stroke-linejoin="round" />
<path d="M94.7,262.4 L83.5,274.8" fill="none" stroke="#ff66ff" stroke-width="1.3" stroke-linecap="butt" stroke-linejoin="round" />
<path d="M82.1,276.2 L82.6,270.2 L87.8,274.8 Z" fill="#ff66ff"/>
<text x="74.50" y="259.50" font-size="12.5" text-anchor="start" >40 K, ee</text>
<text x="135.5" y="273.4" font-size="15.6">Δt = 2 ps</text>
<text x="228.50" y="256.10" font-size="13" text-anchor="middle" >(<tspan font-style="italic">c</tspan>)</text>
<text x="192.40" y="316.40" font-size="12.5" text-anchor="start" >10 K</text>
<text x="203.50" y="340.20" font-size="12.5" text-anchor="start" >20 K</text>
<text x="217.20" y="360.10" font-size="12.5" text-anchor="start" >40 K</text>
<text x="65.20" y="320.80" font-size="12.5" text-anchor="start" >100 K</text>
<text x="65.20" y="355.30" font-size="12.5" text-anchor="start" >150 K</text>
<text x="65.20" y="387.20" font-size="12.5" text-anchor="start" >300 K</text>
<rect x="325.70" y="233.50" width="194.10" height="167.70" fill="none" stroke="#505050" stroke-width="1.15"/>
<line x1="325.70" y1="401.20" x2="325.70" y2="398.00" stroke="#505050" stroke-width="0.9"/>
<line x1="325.70" y1="233.50" x2="325.70" y2="236.70" stroke="#505050" stroke-width="0.9"/>
<line x1="377.20" y1="401.20" x2="377.20" y2="398.00" stroke="#505050" stroke-width="0.9"/>
<line x1="377.20" y1="233.50" x2="377.20" y2="236.70" stroke="#505050" stroke-width="0.9"/>
<line x1="428.70" y1="401.20" x2="428.70" y2="398.00" stroke="#505050" stroke-width="0.9"/>
<line x1="428.70" y1="233.50" x2="428.70" y2="236.70" stroke="#505050" stroke-width="0.9"/>
<line x1="480.20" y1="401.20" x2="480.20" y2="398.00" stroke="#505050" stroke-width="0.9"/>
<line x1="480.20" y1="233.50" x2="480.20" y2="236.70" stroke="#505050" stroke-width="0.9"/>
<line x1="341.20" y1="401.20" x2="341.20" y2="399.60" stroke="#505050" stroke-width="0.9"/>
<line x1="341.20" y1="233.50" x2="341.20" y2="235.10" stroke="#505050" stroke-width="0.9"/>
<line x1="350.27" y1="401.20" x2="350.27" y2="399.60" stroke="#505050" stroke-width="0.9"/>
<line x1="350.27" y1="233.50" x2="350.27" y2="235.10" stroke="#505050" stroke-width="0.9"/>
<line x1="356.71" y1="401.20" x2="356.71" y2="399.60" stroke="#505050" stroke-width="0.9"/>
<line x1="356.71" y1="233.50" x2="356.71" y2="235.10" stroke="#505050" stroke-width="0.9"/>
<line x1="361.70" y1="401.20" x2="361.70" y2="399.60" stroke="#505050" stroke-width="0.9"/>
<line x1="361.70" y1="233.50" x2="361.70" y2="235.10" stroke="#505050" stroke-width="0.9"/>
<line x1="365.77" y1="401.20" x2="365.77" y2="399.60" stroke="#505050" stroke-width="0.9"/>
<line x1="365.77" y1="233.50" x2="365.77" y2="235.10" stroke="#505050" stroke-width="0.9"/>
<line x1="369.22" y1="401.20" x2="369.22" y2="399.60" stroke="#505050" stroke-width="0.9"/>
<line x1="369.22" y1="233.50" x2="369.22" y2="235.10" stroke="#505050" stroke-width="0.9"/>
<line x1="372.21" y1="401.20" x2="372.21" y2="399.60" stroke="#505050" stroke-width="0.9"/>
<line x1="372.21" y1="233.50" x2="372.21" y2="235.10" stroke="#505050" stroke-width="0.9"/>
<line x1="374.84" y1="401.20" x2="374.84" y2="399.60" stroke="#505050" stroke-width="0.9"/>
<line x1="374.84" y1="233.50" x2="374.84" y2="235.10" stroke="#505050" stroke-width="0.9"/>
<line x1="392.70" y1="401.20" x2="392.70" y2="399.60" stroke="#505050" stroke-width="0.9"/>
<line x1="392.70" y1="233.50" x2="392.70" y2="235.10" stroke="#505050" stroke-width="0.9"/>
<line x1="401.77" y1="401.20" x2="401.77" y2="399.60" stroke="#505050" stroke-width="0.9"/>
<line x1="401.77" y1="233.50" x2="401.77" y2="235.10" stroke="#505050" stroke-width="0.9"/>
<line x1="408.21" y1="401.20" x2="408.21" y2="399.60" stroke="#505050" stroke-width="0.9"/>
<line x1="408.21" y1="233.50" x2="408.21" y2="235.10" stroke="#505050" stroke-width="0.9"/>
<line x1="413.20" y1="401.20" x2="413.20" y2="399.60" stroke="#505050" stroke-width="0.9"/>
<line x1="413.20" y1="233.50" x2="413.20" y2="235.10" stroke="#505050" stroke-width="0.9"/>
<line x1="417.27" y1="401.20" x2="417.27" y2="399.60" stroke="#505050" stroke-width="0.9"/>
<line x1="417.27" y1="233.50" x2="417.27" y2="235.10" stroke="#505050" stroke-width="0.9"/>
<line x1="420.72" y1="401.20" x2="420.72" y2="399.60" stroke="#505050" stroke-width="0.9"/>
<line x1="420.72" y1="233.50" x2="420.72" y2="235.10" stroke="#505050" stroke-width="0.9"/>
<line x1="423.71" y1="401.20" x2="423.71" y2="399.60" stroke="#505050" stroke-width="0.9"/>
<line x1="423.71" y1="233.50" x2="423.71" y2="235.10" stroke="#505050" stroke-width="0.9"/>
<line x1="426.34" y1="401.20" x2="426.34" y2="399.60" stroke="#505050" stroke-width="0.9"/>
<line x1="426.34" y1="233.50" x2="426.34" y2="235.10" stroke="#505050" stroke-width="0.9"/>
<line x1="444.20" y1="401.20" x2="444.20" y2="399.60" stroke="#505050" stroke-width="0.9"/>
<line x1="444.20" y1="233.50" x2="444.20" y2="235.10" stroke="#505050" stroke-width="0.9"/>
<line x1="453.27" y1="401.20" x2="453.27" y2="399.60" stroke="#505050" stroke-width="0.9"/>
<line x1="453.27" y1="233.50" x2="453.27" y2="235.10" stroke="#505050" stroke-width="0.9"/>
<line x1="459.71" y1="401.20" x2="459.71" y2="399.60" stroke="#505050" stroke-width="0.9"/>
<line x1="459.71" y1="233.50" x2="459.71" y2="235.10" stroke="#505050" stroke-width="0.9"/>
<line x1="464.70" y1="401.20" x2="464.70" y2="399.60" stroke="#505050" stroke-width="0.9"/>
<line x1="464.70" y1="233.50" x2="464.70" y2="235.10" stroke="#505050" stroke-width="0.9"/>
<line x1="468.77" y1="401.20" x2="468.77" y2="399.60" stroke="#505050" stroke-width="0.9"/>
<line x1="468.77" y1="233.50" x2="468.77" y2="235.10" stroke="#505050" stroke-width="0.9"/>
<line x1="472.22" y1="401.20" x2="472.22" y2="399.60" stroke="#505050" stroke-width="0.9"/>
<line x1="472.22" y1="233.50" x2="472.22" y2="235.10" stroke="#505050" stroke-width="0.9"/>
<line x1="475.21" y1="401.20" x2="475.21" y2="399.60" stroke="#505050" stroke-width="0.9"/>
<line x1="475.21" y1="233.50" x2="475.21" y2="235.10" stroke="#505050" stroke-width="0.9"/>
<line x1="477.84" y1="401.20" x2="477.84" y2="399.60" stroke="#505050" stroke-width="0.9"/>
<line x1="477.84" y1="233.50" x2="477.84" y2="235.10" stroke="#505050" stroke-width="0.9"/>
<line x1="495.70" y1="401.20" x2="495.70" y2="399.60" stroke="#505050" stroke-width="0.9"/>
<line x1="495.70" y1="233.50" x2="495.70" y2="235.10" stroke="#505050" stroke-width="0.9"/>
<line x1="504.77" y1="401.20" x2="504.77" y2="399.60" stroke="#505050" stroke-width="0.9"/>
<line x1="504.77" y1="233.50" x2="504.77" y2="235.10" stroke="#505050" stroke-width="0.9"/>
<line x1="511.21" y1="401.20" x2="511.21" y2="399.60" stroke="#505050" stroke-width="0.9"/>
<line x1="511.21" y1="233.50" x2="511.21" y2="235.10" stroke="#505050" stroke-width="0.9"/>
<line x1="516.20" y1="401.20" x2="516.20" y2="399.60" stroke="#505050" stroke-width="0.9"/>
<line x1="516.20" y1="233.50" x2="516.20" y2="235.10" stroke="#505050" stroke-width="0.9"/>
<line x1="325.70" y1="401.20" x2="328.90" y2="401.20" stroke="#505050" stroke-width="0.9"/>
<line x1="519.80" y1="401.20" x2="516.60" y2="401.20" stroke="#505050" stroke-width="0.9"/>
<line x1="325.70" y1="317.35" x2="328.90" y2="317.35" stroke="#505050" stroke-width="0.9"/>
<line x1="519.80" y1="317.35" x2="516.60" y2="317.35" stroke="#505050" stroke-width="0.9"/>
<line x1="325.70" y1="233.50" x2="328.90" y2="233.50" stroke="#505050" stroke-width="0.9"/>
<line x1="519.80" y1="233.50" x2="516.60" y2="233.50" stroke="#505050" stroke-width="0.9"/>
<line x1="325.70" y1="375.96" x2="327.30" y2="375.96" stroke="#505050" stroke-width="0.9"/>
<line x1="519.80" y1="375.96" x2="518.20" y2="375.96" stroke="#505050" stroke-width="0.9"/>
<line x1="325.70" y1="361.19" x2="327.30" y2="361.19" stroke="#505050" stroke-width="0.9"/>
<line x1="519.80" y1="361.19" x2="518.20" y2="361.19" stroke="#505050" stroke-width="0.9"/>
<line x1="325.70" y1="350.72" x2="327.30" y2="350.72" stroke="#505050" stroke-width="0.9"/>
<line x1="519.80" y1="350.72" x2="518.20" y2="350.72" stroke="#505050" stroke-width="0.9"/>
<line x1="325.70" y1="342.59" x2="327.30" y2="342.59" stroke="#505050" stroke-width="0.9"/>
<line x1="519.80" y1="342.59" x2="518.20" y2="342.59" stroke="#505050" stroke-width="0.9"/>
<line x1="325.70" y1="335.95" x2="327.30" y2="335.95" stroke="#505050" stroke-width="0.9"/>
<line x1="519.80" y1="335.95" x2="518.20" y2="335.95" stroke="#505050" stroke-width="0.9"/>
<line x1="325.70" y1="330.34" x2="327.30" y2="330.34" stroke="#505050" stroke-width="0.9"/>
<line x1="519.80" y1="330.34" x2="518.20" y2="330.34" stroke="#505050" stroke-width="0.9"/>
<line x1="325.70" y1="325.48" x2="327.30" y2="325.48" stroke="#505050" stroke-width="0.9"/>
<line x1="519.80" y1="325.48" x2="518.20" y2="325.48" stroke="#505050" stroke-width="0.9"/>
<line x1="325.70" y1="321.19" x2="327.30" y2="321.19" stroke="#505050" stroke-width="0.9"/>
<line x1="519.80" y1="321.19" x2="518.20" y2="321.19" stroke="#505050" stroke-width="0.9"/>
<line x1="325.70" y1="292.11" x2="327.30" y2="292.11" stroke="#505050" stroke-width="0.9"/>
<line x1="519.80" y1="292.11" x2="518.20" y2="292.11" stroke="#505050" stroke-width="0.9"/>
<line x1="325.70" y1="277.34" x2="327.30" y2="277.34" stroke="#505050" stroke-width="0.9"/>
<line x1="519.80" y1="277.34" x2="518.20" y2="277.34" stroke="#505050" stroke-width="0.9"/>
<line x1="325.70" y1="266.87" x2="327.30" y2="266.87" stroke="#505050" stroke-width="0.9"/>
<line x1="519.80" y1="266.87" x2="518.20" y2="266.87" stroke="#505050" stroke-width="0.9"/>
<line x1="325.70" y1="258.74" x2="327.30" y2="258.74" stroke="#505050" stroke-width="0.9"/>
<line x1="519.80" y1="258.74" x2="518.20" y2="258.74" stroke="#505050" stroke-width="0.9"/>
<line x1="325.70" y1="252.10" x2="327.30" y2="252.10" stroke="#505050" stroke-width="0.9"/>
<line x1="519.80" y1="252.10" x2="518.20" y2="252.10" stroke="#505050" stroke-width="0.9"/>
<line x1="325.70" y1="246.49" x2="327.30" y2="246.49" stroke="#505050" stroke-width="0.9"/>
<line x1="519.80" y1="246.49" x2="518.20" y2="246.49" stroke="#505050" stroke-width="0.9"/>
<line x1="325.70" y1="241.63" x2="327.30" y2="241.63" stroke="#505050" stroke-width="0.9"/>
<line x1="519.80" y1="241.63" x2="518.20" y2="241.63" stroke="#505050" stroke-width="0.9"/>
<line x1="325.70" y1="237.34" x2="327.30" y2="237.34" stroke="#505050" stroke-width="0.9"/>
<line x1="519.80" y1="237.34" x2="518.20" y2="237.34" stroke="#505050" stroke-width="0.9"/>
<text x="317.70" y="407.90" font-size="14" text-anchor="end">10<tspan dx="2.4" dy="-7.4" font-size="11">1</tspan></text>
<text x="317.70" y="324.05" font-size="14" text-anchor="end">10<tspan dx="2.4" dy="-7.4" font-size="11">2</tspan></text>
<text x="317.70" y="240.20" font-size="14" text-anchor="end">10<tspan dx="2.4" dy="-7.4" font-size="11">3</tspan></text>
<text x="314.80" y="419.8" font-size="14">10<tspan dx="2.6" dy="-6.6" font-size="11">8</tspan></text>
<text x="366.30" y="419.8" font-size="14">10<tspan dx="2.6" dy="-6.6" font-size="11">9</tspan></text>
<text x="417.80" y="419.8" font-size="14">10<tspan dx="2.6" dy="-6.6" font-size="11">10</tspan></text>
<text x="469.30" y="419.8" font-size="14">10<tspan dx="2.6" dy="-6.6" font-size="11">11</tspan></text>
<text x="387.6" y="436.8" font-size="14">N<tspan dy="4.3" font-size="11">e</tspan><tspan dy="-4.3" dx="4.3">(cm</tspan><tspan dx="1.8" dy="-7.2" font-size="11">-2</tspan><tspan dx="1" dy="7.2">)</tspan></text>
<text transform="translate(278.6,346) rotate(-90)" font-size="17">τ<tspan dx="-0.5" dy="4" font-size="11.5">s</tspan><tspan dy="-4" dx="5.5" font-size="14.2">(ps)</tspan></text>
<path d="M325.70,301.70 C331.42,301.67 348.85,301.77 360.00,301.50 C371.15,301.23 382.60,300.63 392.60,300.10 C402.60,299.57 411.68,299.35 420.00,298.30 C428.32,297.25 435.00,295.68 442.50,293.80 C450.00,291.92 458.62,288.95 465.00,287.00 C471.38,285.05 474.42,283.33 480.80,282.10 C487.18,280.87 497.30,279.33 503.30,279.60 C509.30,279.87 514.55,283.02 516.80,283.70" fill="none" stroke="#a03535" stroke-width="1.95" stroke-dasharray="6,2.2,1.8,2.2" stroke-linecap="butt" stroke-linejoin="round" />
<path d="M325.70,348.30 C328.25,350.22 336.62,357.08 341.00,359.80 C345.38,362.52 348.17,363.43 352.00,364.60 C355.83,365.77 358.92,367.22 364.00,366.80 C369.08,366.38 376.35,365.57 382.50,362.10 C388.65,358.63 394.65,351.75 400.90,346.00 C407.15,340.25 413.07,333.67 420.00,327.60 C426.93,321.53 435.00,315.42 442.50,309.60 C450.00,303.78 458.98,296.27 465.00,292.70 C471.02,289.13 474.10,288.20 478.60,288.20 C483.10,288.20 487.50,290.45 492.00,292.70 C496.50,294.95 501.47,297.77 505.60,301.70 C509.73,305.63 514.93,313.87 516.80,316.30" fill="none" stroke="#555555" stroke-width="1.95" stroke-dasharray="6.3,2.6,1.8,2.7" stroke-linecap="butt" stroke-linejoin="round" />
<path d="M325.70,363.40 C329.42,362.25 340.45,360.55 348.00,356.50 C355.55,352.45 363.33,345.65 371.00,339.10 C378.67,332.55 387.87,323.72 394.00,317.20 C400.13,310.68 403.47,304.83 407.80,300.00 C412.13,295.17 416.08,291.48 420.00,288.20 C423.92,284.92 425.67,282.82 431.30,280.30 C436.93,277.78 447.05,273.10 453.80,273.10 C460.55,273.10 467.30,277.60 471.80,280.30 C476.30,283.00 477.43,284.80 480.80,289.30 C484.17,293.80 487.97,299.77 492.00,307.30 C496.03,314.83 500.90,324.03 505.00,334.50 C509.10,344.97 514.67,364.17 516.60,370.10" fill="none" stroke="#ff8424" stroke-width="1.95" stroke-dasharray="6.3,2,1.8,2.2,1.8,2.4" stroke-linecap="butt" stroke-linejoin="round" />
<path d="M325.70,307.30 C329.33,304.12 340.12,295.25 347.50,288.20 C354.88,281.15 362.48,272.13 370.00,265.00 C377.52,257.87 385.65,249.68 392.60,245.40 C399.55,241.12 405.63,239.48 411.70,239.30 C417.77,239.12 423.87,241.42 429.00,244.30 C434.13,247.18 438.37,252.10 442.50,256.60 C446.63,261.10 450.05,265.67 453.80,271.30 C457.55,276.93 461.25,282.90 465.00,290.40 C468.75,297.90 473.07,306.27 476.30,316.30 C479.53,326.33 481.83,338.57 484.40,350.60 C486.97,362.63 490.48,382.18 491.70,388.50" fill="none" stroke="#1c46e2" stroke-width="1.95" stroke-dasharray="5.2,1.9" stroke-linecap="butt" stroke-linejoin="round" />
<path d="M491.70,388.50 L502.80,360.90 L516.60,342.50" fill="none" stroke="#1c46e2" stroke-width="1.95" stroke-dasharray="5.2,1.9" stroke-linecap="butt" stroke-linejoin="round" />
<text x="336.30" y="271.30" font-size="12.5" text-anchor="start" >10 K</text>
<text x="361.00" y="298.30" font-size="12.5" text-anchor="start" >300 K</text>
<text x="353.20" y="329.80" font-size="12.5" text-anchor="start" >40 K</text>
<text x="384.60" y="371.50" font-size="12.5" text-anchor="start" >100 K</text>
<text x="354.30" y="388.50" font-size="13" text-anchor="middle" >(<tspan font-style="italic">d</tspan> )</text>
</svg></body></html>
